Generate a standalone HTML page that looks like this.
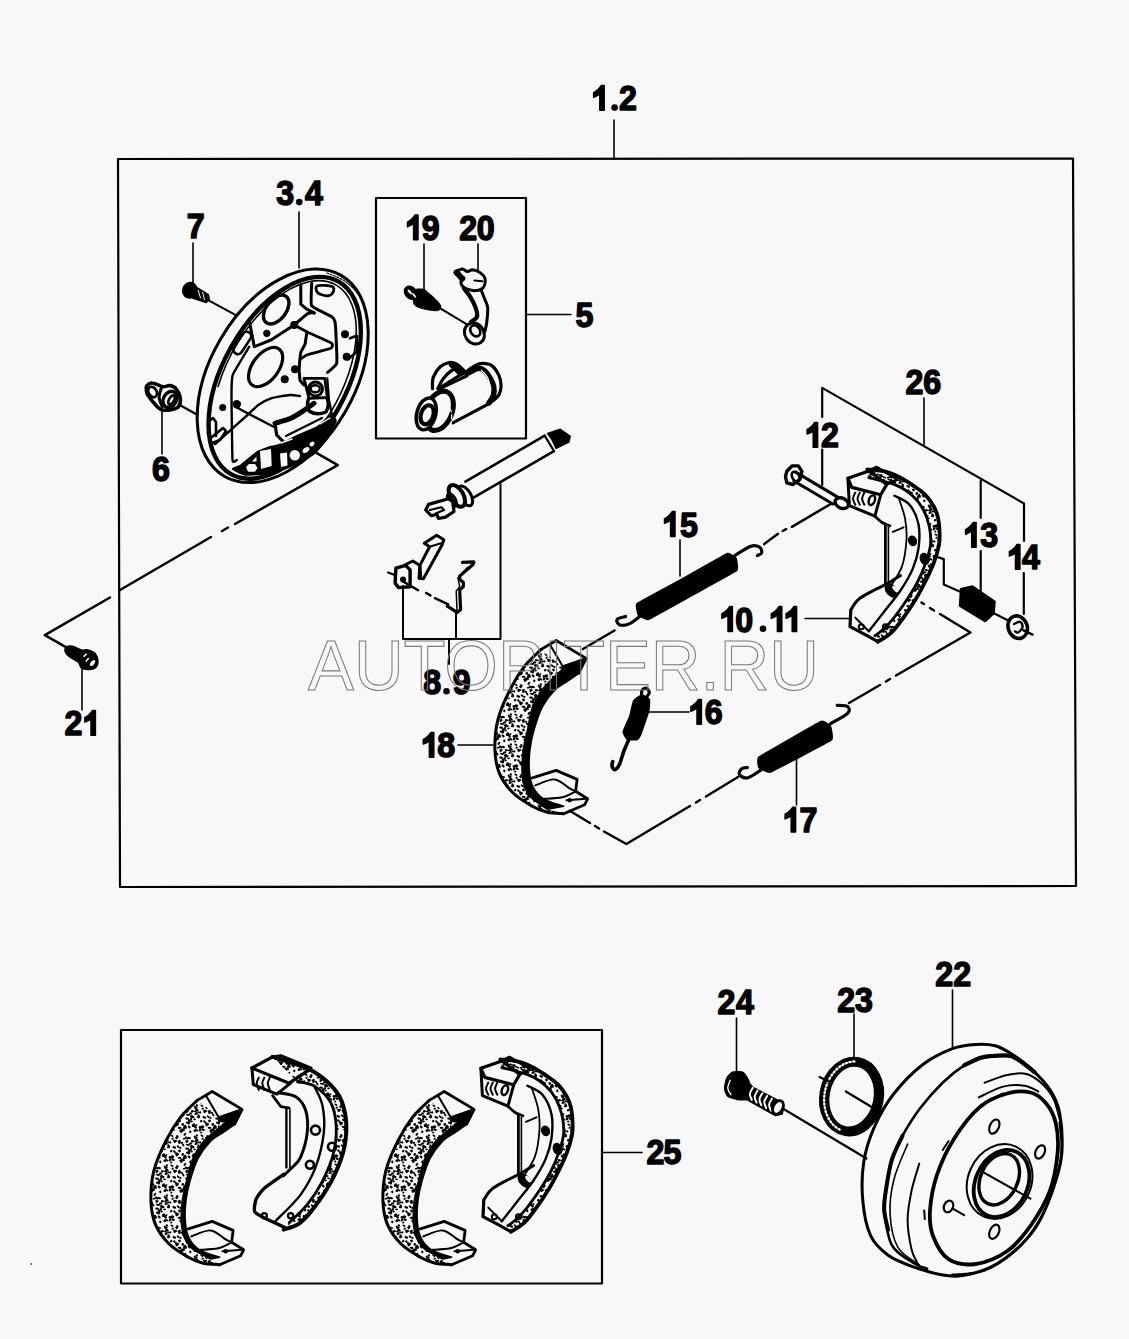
<!DOCTYPE html>
<html><head><meta charset="utf-8"><style>
html,body{margin:0;padding:0;background:#f8f8f8;}
svg{display:block}
.lb{font-family:"Liberation Sans",sans-serif;font-weight:bold;font-size:35px;fill:#000;stroke:#000;stroke-width:1.5;stroke-linejoin:round;opacity:0.999}
.wm{font-family:"Liberation Sans",sans-serif;font-size:70.8px;fill:none;stroke:#7a7a7a;stroke-width:1.05}
</style></head><body>
<svg width="1129" height="1339" viewBox="0 0 1129 1339">
<defs><pattern id="spk" patternUnits="userSpaceOnUse" width="30" height="30">
<rect width="30" height="30" fill="#f8f8f8"/>
<ellipse cx="13.6" cy="16.8" rx="2.0" ry="1.1" fill="#000" transform="rotate(5 13.6 16.8)"/>
<ellipse cx="25.7" cy="5.7" rx="2.0" ry="1.4" fill="#000" transform="rotate(18 25.7 5.7)"/>
<ellipse cx="23.8" cy="2.8" rx="1.7" ry="0.9" fill="#000" transform="rotate(-49 23.8 2.8)"/>
<ellipse cx="23.8" cy="32.8" rx="1.7" ry="0.9" fill="#000" transform="rotate(8 23.8 32.8)"/>
<ellipse cx="24.3" cy="20.8" rx="1.1" ry="1.4" fill="#000" transform="rotate(-10 24.3 20.8)"/>
<ellipse cx="28.9" cy="19.6" rx="1.4" ry="1.4" fill="#000" transform="rotate(-59 28.9 19.6)"/>
<ellipse cx="-1.1" cy="19.6" rx="1.4" ry="1.4" fill="#000" transform="rotate(46 -1.1 19.6)"/>
<ellipse cx="15.9" cy="1.8" rx="1.4" ry="0.9" fill="#000" transform="rotate(16 15.9 1.8)"/>
<ellipse cx="15.9" cy="31.8" rx="1.4" ry="0.9" fill="#000" transform="rotate(-57 15.9 31.8)"/>
<ellipse cx="23.3" cy="9.8" rx="1.4" ry="1.4" fill="#000" transform="rotate(-31 23.3 9.8)"/>
<ellipse cx="19.2" cy="15.0" rx="1.1" ry="1.1" fill="#000" transform="rotate(23 19.2 15.0)"/>
<ellipse cx="8.3" cy="29.9" rx="1.1" ry="1.4" fill="#000" transform="rotate(-28 8.3 29.9)"/>
<ellipse cx="8.3" cy="-0.1" rx="1.1" ry="1.4" fill="#000" transform="rotate(-20 8.3 -0.1)"/>
<ellipse cx="22.7" cy="15.4" rx="1.1" ry="0.9" fill="#000" transform="rotate(12 22.7 15.4)"/>
<ellipse cx="23.0" cy="12.0" rx="1.7" ry="1.1" fill="#000" transform="rotate(-52 23.0 12.0)"/>
<ellipse cx="28.7" cy="25.4" rx="1.1" ry="0.9" fill="#000" transform="rotate(-34 28.7 25.4)"/>
<ellipse cx="-1.3" cy="25.4" rx="1.1" ry="0.9" fill="#000" transform="rotate(58 -1.3 25.4)"/>
<ellipse cx="27.3" cy="14.1" rx="2.0" ry="1.1" fill="#000" transform="rotate(-51 27.3 14.1)"/>
<ellipse cx="-2.7" cy="14.1" rx="2.0" ry="1.1" fill="#000" transform="rotate(12 -2.7 14.1)"/>
<ellipse cx="18.9" cy="23.4" rx="1.7" ry="1.1" fill="#000" transform="rotate(-49 18.9 23.4)"/>
<ellipse cx="9.3" cy="0.5" rx="2.0" ry="0.9" fill="#000" transform="rotate(-43 9.3 0.5)"/>
<ellipse cx="9.3" cy="30.5" rx="2.0" ry="0.9" fill="#000" transform="rotate(-29 9.3 30.5)"/>
<ellipse cx="21.2" cy="0.3" rx="2.0" ry="1.1" fill="#000" transform="rotate(-38 21.2 0.3)"/>
<ellipse cx="21.2" cy="30.3" rx="2.0" ry="1.1" fill="#000" transform="rotate(27 21.2 30.3)"/>
<ellipse cx="16.8" cy="13.4" rx="1.4" ry="1.4" fill="#000" transform="rotate(38 16.8 13.4)"/>
<ellipse cx="3.9" cy="19.3" rx="1.1" ry="1.1" fill="#000" transform="rotate(-7 3.9 19.3)"/>
<ellipse cx="29.7" cy="0.0" rx="1.7" ry="0.9" fill="#000" transform="rotate(-34 29.7 0.0)"/>
<ellipse cx="29.7" cy="30.0" rx="1.7" ry="0.9" fill="#000" transform="rotate(-37 29.7 30.0)"/>
<ellipse cx="-0.3" cy="0.0" rx="1.7" ry="0.9" fill="#000" transform="rotate(-10 -0.3 0.0)"/>
<ellipse cx="-0.3" cy="30.0" rx="1.7" ry="0.9" fill="#000" transform="rotate(49 -0.3 30.0)"/>
<ellipse cx="18.1" cy="17.3" rx="1.1" ry="0.9" fill="#000" transform="rotate(-33 18.1 17.3)"/>
<ellipse cx="13.2" cy="0.3" rx="1.7" ry="1.1" fill="#000" transform="rotate(-11 13.2 0.3)"/>
<ellipse cx="13.2" cy="30.3" rx="1.7" ry="1.1" fill="#000" transform="rotate(-51 13.2 30.3)"/>
<ellipse cx="2.2" cy="6.3" rx="1.4" ry="0.9" fill="#000" transform="rotate(16 2.2 6.3)"/>
<ellipse cx="32.2" cy="6.3" rx="1.4" ry="0.9" fill="#000" transform="rotate(-13 32.2 6.3)"/>
<ellipse cx="11.2" cy="13.6" rx="2.0" ry="1.4" fill="#000" transform="rotate(-43 11.2 13.6)"/>
<ellipse cx="26.0" cy="5.5" rx="1.4" ry="1.1" fill="#000" transform="rotate(56 26.0 5.5)"/>
<ellipse cx="6.9" cy="18.3" rx="1.4" ry="0.9" fill="#000" transform="rotate(34 6.9 18.3)"/>
<ellipse cx="18.9" cy="16.6" rx="2.0" ry="1.1" fill="#000" transform="rotate(17 18.9 16.6)"/>
<ellipse cx="2.4" cy="1.4" rx="1.1" ry="0.9" fill="#000" transform="rotate(5 2.4 1.4)"/>
<ellipse cx="2.4" cy="31.4" rx="1.1" ry="0.9" fill="#000" transform="rotate(-28 2.4 31.4)"/>
<ellipse cx="32.4" cy="1.4" rx="1.1" ry="0.9" fill="#000" transform="rotate(-30 32.4 1.4)"/>
<ellipse cx="32.4" cy="31.4" rx="1.1" ry="0.9" fill="#000" transform="rotate(34 32.4 31.4)"/>
<ellipse cx="21.1" cy="7.7" rx="2.0" ry="1.1" fill="#000" transform="rotate(6 21.1 7.7)"/>
<ellipse cx="5.3" cy="21.6" rx="1.1" ry="0.9" fill="#000" transform="rotate(-31 5.3 21.6)"/>
<ellipse cx="14.4" cy="19.6" rx="1.1" ry="1.1" fill="#000" transform="rotate(-33 14.4 19.6)"/>
<ellipse cx="27.5" cy="6.1" rx="1.1" ry="0.9" fill="#000" transform="rotate(-26 27.5 6.1)"/>
<ellipse cx="-2.5" cy="6.1" rx="1.1" ry="0.9" fill="#000" transform="rotate(-8 -2.5 6.1)"/>
<ellipse cx="13.4" cy="1.8" rx="1.4" ry="1.1" fill="#000" transform="rotate(-13 13.4 1.8)"/>
<ellipse cx="13.4" cy="31.8" rx="1.4" ry="1.1" fill="#000" transform="rotate(7 13.4 31.8)"/>
<ellipse cx="17.2" cy="3.9" rx="1.7" ry="0.9" fill="#000" transform="rotate(54 17.2 3.9)"/>
<ellipse cx="13.5" cy="9.9" rx="1.4" ry="1.4" fill="#000" transform="rotate(-56 13.5 9.9)"/>
<ellipse cx="27.7" cy="14.2" rx="1.7" ry="1.4" fill="#000" transform="rotate(-21 27.7 14.2)"/>
<ellipse cx="-2.3" cy="14.2" rx="1.7" ry="1.4" fill="#000" transform="rotate(-56 -2.3 14.2)"/>
<ellipse cx="0.6" cy="19.1" rx="2.0" ry="0.9" fill="#000" transform="rotate(33 0.6 19.1)"/>
<ellipse cx="30.6" cy="19.1" rx="2.0" ry="0.9" fill="#000" transform="rotate(-21 30.6 19.1)"/>
<ellipse cx="9.6" cy="30.0" rx="1.1" ry="1.1" fill="#000" transform="rotate(9 9.6 30.0)"/>
<ellipse cx="9.6" cy="-0.0" rx="1.1" ry="1.1" fill="#000" transform="rotate(-13 9.6 -0.0)"/>
<ellipse cx="22.1" cy="27.0" rx="1.4" ry="1.1" fill="#000" transform="rotate(-15 22.1 27.0)"/>
<ellipse cx="22.1" cy="-3.0" rx="1.4" ry="1.1" fill="#000" transform="rotate(-50 22.1 -3.0)"/>
<ellipse cx="20.6" cy="27.0" rx="2.0" ry="0.9" fill="#000" transform="rotate(50 20.6 27.0)"/>
<ellipse cx="20.6" cy="-3.0" rx="2.0" ry="0.9" fill="#000" transform="rotate(3 20.6 -3.0)"/>
<ellipse cx="17.2" cy="18.7" rx="2.0" ry="1.1" fill="#000" transform="rotate(14 17.2 18.7)"/>
<ellipse cx="0.4" cy="2.2" rx="1.1" ry="1.4" fill="#000" transform="rotate(-46 0.4 2.2)"/>
<ellipse cx="0.4" cy="32.2" rx="1.1" ry="1.4" fill="#000" transform="rotate(-28 0.4 32.2)"/>
<ellipse cx="30.4" cy="2.2" rx="1.1" ry="1.4" fill="#000" transform="rotate(52 30.4 2.2)"/>
<ellipse cx="30.4" cy="32.2" rx="1.1" ry="1.4" fill="#000" transform="rotate(-7 30.4 32.2)"/>
<ellipse cx="21.8" cy="11.7" rx="2.0" ry="1.1" fill="#000" transform="rotate(-1 21.8 11.7)"/>
<ellipse cx="25.2" cy="2.5" rx="1.1" ry="1.1" fill="#000" transform="rotate(16 25.2 2.5)"/>
<ellipse cx="25.2" cy="32.5" rx="1.1" ry="1.1" fill="#000" transform="rotate(-49 25.2 32.5)"/>
<ellipse cx="14.4" cy="6.9" rx="1.1" ry="1.1" fill="#000" transform="rotate(39 14.4 6.9)"/>
<ellipse cx="18.4" cy="27.6" rx="1.7" ry="0.9" fill="#000" transform="rotate(-13 18.4 27.6)"/>
<ellipse cx="18.4" cy="-2.4" rx="1.7" ry="0.9" fill="#000" transform="rotate(-22 18.4 -2.4)"/>
<ellipse cx="4.3" cy="18.4" rx="1.4" ry="1.1" fill="#000" transform="rotate(24 4.3 18.4)"/>
<ellipse cx="27.9" cy="14.9" rx="1.4" ry="1.1" fill="#000" transform="rotate(-9 27.9 14.9)"/>
<ellipse cx="-2.1" cy="14.9" rx="1.4" ry="1.1" fill="#000" transform="rotate(25 -2.1 14.9)"/>
<ellipse cx="7.5" cy="19.0" rx="1.4" ry="0.9" fill="#000" transform="rotate(-11 7.5 19.0)"/>
<ellipse cx="6.6" cy="27.6" rx="1.4" ry="0.9" fill="#000" transform="rotate(-43 6.6 27.6)"/>
<ellipse cx="6.6" cy="-2.4" rx="1.4" ry="0.9" fill="#000" transform="rotate(3 6.6 -2.4)"/>
<ellipse cx="10.5" cy="26.9" rx="1.1" ry="1.4" fill="#000" transform="rotate(-52 10.5 26.9)"/>
<ellipse cx="28.5" cy="8.3" rx="1.4" ry="0.9" fill="#000" transform="rotate(-3 28.5 8.3)"/>
<ellipse cx="-1.5" cy="8.3" rx="1.4" ry="0.9" fill="#000" transform="rotate(0 -1.5 8.3)"/>
<ellipse cx="8.3" cy="6.4" rx="2.0" ry="1.1" fill="#000" transform="rotate(20 8.3 6.4)"/>
<ellipse cx="15.6" cy="20.2" rx="2.0" ry="1.1" fill="#000" transform="rotate(-51 15.6 20.2)"/>
<ellipse cx="24.9" cy="8.3" rx="1.1" ry="1.4" fill="#000" transform="rotate(30 24.9 8.3)"/>
<ellipse cx="8.4" cy="10.6" rx="1.1" ry="1.4" fill="#000" transform="rotate(-43 8.4 10.6)"/>
<ellipse cx="12.2" cy="5.7" rx="1.7" ry="0.9" fill="#000" transform="rotate(39 12.2 5.7)"/>
<ellipse cx="4.2" cy="1.4" rx="1.1" ry="1.1" fill="#000" transform="rotate(-47 4.2 1.4)"/>
<ellipse cx="4.2" cy="31.4" rx="1.1" ry="1.1" fill="#000" transform="rotate(20 4.2 31.4)"/>
<ellipse cx="16.1" cy="19.2" rx="1.7" ry="0.9" fill="#000" transform="rotate(27 16.1 19.2)"/>
<ellipse cx="5.9" cy="24.7" rx="1.7" ry="0.9" fill="#000" transform="rotate(31 5.9 24.7)"/>
<ellipse cx="0.3" cy="14.2" rx="1.1" ry="0.9" fill="#000" transform="rotate(-32 0.3 14.2)"/>
<ellipse cx="30.3" cy="14.2" rx="1.1" ry="0.9" fill="#000" transform="rotate(-26 30.3 14.2)"/>
<ellipse cx="23.4" cy="16.2" rx="1.4" ry="1.1" fill="#000" transform="rotate(48 23.4 16.2)"/>
<ellipse cx="23.8" cy="27.2" rx="1.1" ry="1.1" fill="#000" transform="rotate(59 23.8 27.2)"/>
<ellipse cx="23.8" cy="-2.8" rx="1.1" ry="1.1" fill="#000" transform="rotate(54 23.8 -2.8)"/>
<ellipse cx="21.7" cy="3.9" rx="2.0" ry="0.9" fill="#000" transform="rotate(20 21.7 3.9)"/>
<ellipse cx="26.6" cy="0.2" rx="1.7" ry="1.1" fill="#000" transform="rotate(-19 26.6 0.2)"/>
<ellipse cx="26.6" cy="30.2" rx="1.7" ry="1.1" fill="#000" transform="rotate(23 26.6 30.2)"/>
<ellipse cx="29.5" cy="3.0" rx="1.1" ry="0.9" fill="#000" transform="rotate(-29 29.5 3.0)"/>
<ellipse cx="29.5" cy="33.0" rx="1.1" ry="0.9" fill="#000" transform="rotate(55 29.5 33.0)"/>
<ellipse cx="-0.5" cy="3.0" rx="1.1" ry="0.9" fill="#000" transform="rotate(-11 -0.5 3.0)"/>
<ellipse cx="-0.5" cy="33.0" rx="1.1" ry="0.9" fill="#000" transform="rotate(-49 -0.5 33.0)"/>
<ellipse cx="29.3" cy="16.1" rx="1.7" ry="1.1" fill="#000" transform="rotate(56 29.3 16.1)"/>
<ellipse cx="-0.7" cy="16.1" rx="1.7" ry="1.1" fill="#000" transform="rotate(31 -0.7 16.1)"/>
<ellipse cx="25.7" cy="10.5" rx="1.1" ry="0.9" fill="#000" transform="rotate(-4 25.7 10.5)"/>
<ellipse cx="10.3" cy="12.6" rx="1.7" ry="1.1" fill="#000" transform="rotate(57 10.3 12.6)"/>
<ellipse cx="0.9" cy="24.3" rx="1.1" ry="1.1" fill="#000" transform="rotate(42 0.9 24.3)"/>
<ellipse cx="30.9" cy="24.3" rx="1.1" ry="1.1" fill="#000" transform="rotate(-56 30.9 24.3)"/>
<ellipse cx="5.2" cy="10.1" rx="1.4" ry="1.1" fill="#000" transform="rotate(-41 5.2 10.1)"/>
<ellipse cx="30.0" cy="27.0" rx="2.0" ry="1.1" fill="#000" transform="rotate(14 30.0 27.0)"/>
<ellipse cx="30.0" cy="-3.0" rx="2.0" ry="1.1" fill="#000" transform="rotate(28 30.0 -3.0)"/>
<ellipse cx="-0.0" cy="27.0" rx="2.0" ry="1.1" fill="#000" transform="rotate(-49 -0.0 27.0)"/>
<ellipse cx="-0.0" cy="-3.0" rx="2.0" ry="1.1" fill="#000" transform="rotate(37 -0.0 -3.0)"/>
<ellipse cx="6.6" cy="15.8" rx="1.7" ry="1.4" fill="#000" transform="rotate(11 6.6 15.8)"/>
<ellipse cx="19.2" cy="15.7" rx="1.7" ry="1.1" fill="#000" transform="rotate(25 19.2 15.7)"/>
<ellipse cx="11.4" cy="25.4" rx="1.4" ry="1.1" fill="#000" transform="rotate(48 11.4 25.4)"/>
<ellipse cx="4.2" cy="16.3" rx="1.7" ry="1.4" fill="#000" transform="rotate(3 4.2 16.3)"/>
<ellipse cx="6.0" cy="16.1" rx="1.1" ry="1.4" fill="#000" transform="rotate(-12 6.0 16.1)"/>
<ellipse cx="0.8" cy="29.1" rx="2.0" ry="1.4" fill="#000" transform="rotate(42 0.8 29.1)"/>
<ellipse cx="0.8" cy="-0.9" rx="2.0" ry="1.4" fill="#000" transform="rotate(12 0.8 -0.9)"/>
<ellipse cx="30.8" cy="29.1" rx="2.0" ry="1.4" fill="#000" transform="rotate(-45 30.8 29.1)"/>
<ellipse cx="30.8" cy="-0.9" rx="2.0" ry="1.4" fill="#000" transform="rotate(2 30.8 -0.9)"/>
<ellipse cx="2.8" cy="5.0" rx="2.0" ry="1.1" fill="#000" transform="rotate(57 2.8 5.0)"/>
<ellipse cx="32.8" cy="5.0" rx="2.0" ry="1.1" fill="#000" transform="rotate(42 32.8 5.0)"/>
</pattern></defs>
<rect width="1129" height="1339" fill="#f8f8f8"/>
<g stroke="#000" fill="none" stroke-linecap="round" stroke-linejoin="round">
<path d="M118,159 L1073,158.5 L1076,886 L120,887 Z" stroke-width="2.2" fill="none" />
<path d="M376,198 L526,198 L526,438.5 L376,438.5 Z" stroke-width="2.2" fill="none" />
<path d="M121,1030 L602,1030 L602,1283.5 L121,1283.5 Z" stroke-width="2.2" fill="none" />
<path transform="translate(593.20,110.80)" d="M8.2,-25.3 L11.0,-25.3 L11.0,-0.5 L6.6,-0.5 L6.6,-16.6 Q3.6,-14.6 0.5,-13.6 L0.5,-18.2 Q4.6,-19.8 8.2,-25.3 Z" fill="#000" stroke="#000" stroke-width="1.5" stroke-linejoin="round"/>
<circle cx="614.60" cy="107.60" r="3.3" fill="#000" stroke="none"/>
<text transform="translate(618.97,110.40) scale(0.92,1)" class="lb">2</text>
<line x1="614" y1="120" x2="614" y2="159" stroke-width="1.6"/>
<text transform="translate(276.35,204.90) scale(0.92,1)" class="lb">3</text>
<circle cx="299.30" cy="202.10" r="3.3" fill="#000" stroke="none"/>
<text transform="translate(305.02,204.90) scale(0.92,1)" class="lb">4</text>
<line x1="299" y1="212" x2="299" y2="268" stroke-width="1.6"/>
<text transform="translate(186.78,238.20) scale(0.92,1)" class="lb">7</text>
<line x1="193" y1="243" x2="193" y2="283" stroke-width="1.6"/>
<text transform="translate(151.97,481.20) scale(0.92,1)" class="lb">6</text>
<line x1="162" y1="410" x2="162" y2="454" stroke-width="1.6"/>
<text transform="translate(64.47,735.30) scale(0.92,1)" class="lb">2</text>
<path transform="translate(84.40,735.70)" d="M8.2,-25.3 L11.0,-25.3 L11.0,-0.5 L6.6,-0.5 L6.6,-16.6 Q3.6,-14.6 0.5,-13.6 L0.5,-18.2 Q4.6,-19.8 8.2,-25.3 Z" fill="#000" stroke="#000" stroke-width="1.5" stroke-linejoin="round"/>
<line x1="82" y1="669" x2="82" y2="710" stroke-width="1.6"/>
<path transform="translate(407.00,240.30)" d="M8.2,-25.3 L11.0,-25.3 L11.0,-0.5 L6.6,-0.5 L6.6,-16.6 Q3.6,-14.6 0.5,-13.6 L0.5,-18.2 Q4.6,-19.8 8.2,-25.3 Z" fill="#000" stroke="#000" stroke-width="1.5" stroke-linejoin="round"/>
<text transform="translate(421.67,239.90) scale(0.92,1)" class="lb">9</text>
<line x1="424" y1="244" x2="424" y2="290" stroke-width="1.6"/>
<text transform="translate(459.17,239.90) scale(0.92,1)" class="lb">2</text>
<text transform="translate(476.67,239.90) scale(0.92,1)" class="lb">0</text>
<line x1="478" y1="244" x2="478" y2="271" stroke-width="1.6"/>
<text transform="translate(575.58,326.60) scale(0.92,1)" class="lb">5</text>
<line x1="526" y1="314.5" x2="571" y2="314.5" stroke-width="1.6"/>
<text transform="translate(423.25,694.00) scale(0.92,1)" class="lb">8</text>
<circle cx="446.50" cy="691.20" r="3.3" fill="#000" stroke="none"/>
<text transform="translate(452.67,694.00) scale(0.92,1)" class="lb">9</text>
<text transform="translate(905.47,394.10) scale(0.92,1)" class="lb">2</text>
<text transform="translate(923.37,394.10) scale(0.92,1)" class="lb">6</text>
<line x1="924" y1="398" x2="924" y2="445" stroke-width="1.6"/>
<path transform="translate(806.60,447.70)" d="M8.2,-25.3 L11.0,-25.3 L11.0,-0.5 L6.6,-0.5 L6.6,-16.6 Q3.6,-14.6 0.5,-13.6 L0.5,-18.2 Q4.6,-19.8 8.2,-25.3 Z" fill="#000" stroke="#000" stroke-width="1.5" stroke-linejoin="round"/>
<text transform="translate(821.07,447.30) scale(0.92,1)" class="lb">2</text>
<path transform="translate(965.10,547.80)" d="M8.2,-25.3 L11.0,-25.3 L11.0,-0.5 L6.6,-0.5 L6.6,-16.6 Q3.6,-14.6 0.5,-13.6 L0.5,-18.2 Q4.6,-19.8 8.2,-25.3 Z" fill="#000" stroke="#000" stroke-width="1.5" stroke-linejoin="round"/>
<text transform="translate(980.15,547.40) scale(0.92,1)" class="lb">3</text>
<path transform="translate(1008.90,569.70)" d="M8.2,-25.3 L11.0,-25.3 L11.0,-0.5 L6.6,-0.5 L6.6,-16.6 Q3.6,-14.6 0.5,-13.6 L0.5,-18.2 Q4.6,-19.8 8.2,-25.3 Z" fill="#000" stroke="#000" stroke-width="1.5" stroke-linejoin="round"/>
<text transform="translate(1022.02,569.30) scale(0.92,1)" class="lb">4</text>
<path transform="translate(664.00,536.90)" d="M8.2,-25.3 L11.0,-25.3 L11.0,-0.5 L6.6,-0.5 L6.6,-16.6 Q3.6,-14.6 0.5,-13.6 L0.5,-18.2 Q4.6,-19.8 8.2,-25.3 Z" fill="#000" stroke="#000" stroke-width="1.5" stroke-linejoin="round"/>
<text transform="translate(680.08,536.50) scale(0.92,1)" class="lb">5</text>
<line x1="680" y1="540" x2="680" y2="576" stroke-width="1.6"/>
<path transform="translate(721.40,631.90)" d="M8.2,-25.3 L11.0,-25.3 L11.0,-0.5 L6.6,-0.5 L6.6,-16.6 Q3.6,-14.6 0.5,-13.6 L0.5,-18.2 Q4.6,-19.8 8.2,-25.3 Z" fill="#000" stroke="#000" stroke-width="1.5" stroke-linejoin="round"/>
<text transform="translate(735.27,631.50) scale(0.92,1)" class="lb">0</text>
<circle cx="763.00" cy="628.70" r="3.3" fill="#000" stroke="none"/>
<path transform="translate(770.80,631.90)" d="M8.2,-25.3 L11.0,-25.3 L11.0,-0.5 L6.6,-0.5 L6.6,-16.6 Q3.6,-14.6 0.5,-13.6 L0.5,-18.2 Q4.6,-19.8 8.2,-25.3 Z" fill="#000" stroke="#000" stroke-width="1.5" stroke-linejoin="round"/>
<path transform="translate(785.60,631.90)" d="M8.2,-25.3 L11.0,-25.3 L11.0,-0.5 L6.6,-0.5 L6.6,-16.6 Q3.6,-14.6 0.5,-13.6 L0.5,-18.2 Q4.6,-19.8 8.2,-25.3 Z" fill="#000" stroke="#000" stroke-width="1.5" stroke-linejoin="round"/>
<line x1="805" y1="618.5" x2="849" y2="618.5" stroke-width="1.6"/>
<path transform="translate(690.40,724.80)" d="M8.2,-25.3 L11.0,-25.3 L11.0,-0.5 L6.6,-0.5 L6.6,-16.6 Q3.6,-14.6 0.5,-13.6 L0.5,-18.2 Q4.6,-19.8 8.2,-25.3 Z" fill="#000" stroke="#000" stroke-width="1.5" stroke-linejoin="round"/>
<text transform="translate(704.67,724.40) scale(0.92,1)" class="lb">6</text>
<line x1="648" y1="712" x2="689" y2="712" stroke-width="1.6"/>
<path transform="translate(784.60,832.50)" d="M8.2,-25.3 L11.0,-25.3 L11.0,-0.5 L6.6,-0.5 L6.6,-16.6 Q3.6,-14.6 0.5,-13.6 L0.5,-18.2 Q4.6,-19.8 8.2,-25.3 Z" fill="#000" stroke="#000" stroke-width="1.5" stroke-linejoin="round"/>
<text transform="translate(799.58,832.10) scale(0.92,1)" class="lb">7</text>
<line x1="796.5" y1="759" x2="796.5" y2="805" stroke-width="1.6"/>
<path transform="translate(422.80,757.70)" d="M8.2,-25.3 L11.0,-25.3 L11.0,-0.5 L6.6,-0.5 L6.6,-16.6 Q3.6,-14.6 0.5,-13.6 L0.5,-18.2 Q4.6,-19.8 8.2,-25.3 Z" fill="#000" stroke="#000" stroke-width="1.5" stroke-linejoin="round"/>
<text transform="translate(437.35,757.30) scale(0.92,1)" class="lb">8</text>
<line x1="458" y1="745" x2="493" y2="745" stroke-width="1.6"/>
<text transform="translate(646.47,1163.60) scale(0.92,1)" class="lb">2</text>
<text transform="translate(663.58,1163.60) scale(0.92,1)" class="lb">5</text>
<line x1="602" y1="1152.5" x2="642" y2="1152.5" stroke-width="1.6"/>
<text transform="translate(935.17,985.70) scale(0.92,1)" class="lb">2</text>
<text transform="translate(953.17,985.70) scale(0.92,1)" class="lb">2</text>
<line x1="952.5" y1="990" x2="952.5" y2="1048" stroke-width="1.6"/>
<text transform="translate(837.17,1012.00) scale(0.92,1)" class="lb">2</text>
<text transform="translate(854.95,1012.00) scale(0.92,1)" class="lb">3</text>
<line x1="854" y1="1014" x2="854" y2="1057" stroke-width="1.6"/>
<text transform="translate(717.57,1014.40) scale(0.92,1)" class="lb">2</text>
<text transform="translate(736.02,1014.40) scale(0.92,1)" class="lb">4</text>
<line x1="736.5" y1="1018" x2="736.5" y2="1072" stroke-width="1.6"/>
<ellipse transform="translate(282.7,375.8) rotate(-59.8)" rx="116.2" ry="72.2" stroke-width="3"/>
<ellipse transform="translate(284.7,377.8) rotate(-60.9)" rx="110.3" ry="61.8" stroke-width="4.4"/>
<path transform="translate(284.7,377.8) rotate(-60.9)" d="M-40,-54 A106,57.5 0 0 1 106,0 A106,57.5 0 0 1 -20,56" stroke-width="1.6"/>
<path d="M327.0,273.0 C330.2,274.5 340.2,277.5 346.0,282.0 C351.8,286.5 358.3,292.8 362.0,300.0 C365.7,307.2 367.2,316.7 368.0,325.0 C368.8,333.3 368.0,341.7 367.0,350.0 C366.0,358.3 362.8,370.8 362.0,375.0" stroke-width="1.2" stroke-dasharray="2 1.5"/>
<ellipse transform="translate(276.2,309.5) rotate(-53)" rx="16.5" ry="10" stroke-width="3.4"/>
<ellipse transform="translate(265.6,367.1) rotate(-53)" rx="22.5" ry="13" stroke-width="3.2"/>
<rect transform="translate(242.3,342.9) rotate(-57)" x="-12.5" y="-4.5" width="25" height="9" rx="4.5" stroke-width="2.6"/>
<path d="M317.5,285.8 C320.0,284.8 330.0,285.4 332.5,286.7 C335.0,287.9 333.5,291.8 332.5,293.3 C331.5,294.8 329.2,295.9 326.7,295.8 C324.2,295.7 319.0,294.2 317.5,292.5 C316.0,290.8 315.0,286.8 317.5,285.8 Z" stroke-width="2.8"/>
<circle cx="266.8" cy="333.3" r="3.6" fill="#000" stroke="none"/>
<circle cx="284.75" cy="379.2" r="4" fill="#000" stroke="none"/>
<circle cx="295" cy="369.2" r="4" fill="#000" stroke="none"/>
<circle cx="294.2" cy="325" r="4" fill="#000" stroke="none"/>
<circle cx="345" cy="334.2" r="4" fill="#000" stroke="none"/>
<circle cx="346.7" cy="356.7" r="4" fill="#000" stroke="none"/>
<circle cx="222.7" cy="407.5" r="3.5" fill="#000" stroke="none"/>
<circle cx="236.8" cy="404.2" r="4.2" fill="#000" stroke="none"/>
<path d="M249.3,320.8 L254.3,346.7 L271.0,340.0 L294.2,325.0" stroke-width="3"/>
<path d="M294.2,325.0 C295.2,324.2 297.6,321.9 300.0,320.0 C302.4,318.1 305.9,314.5 308.3,313.3 C310.7,312.1 313.2,313.0 314.2,312.9" stroke-width="3"/>
<path d="M300.8,284.2 L300.8,304.2 L306.7,309.2 L314.2,312.9" stroke-width="3"/>
<path d="M311.7,283.3 C311.7,284.8 310.4,303.6 311.7,305.8 C313.0,308.0 330.1,315.6 331.7,316.7 C333.3,317.8 334.7,320.1 335.0,321.7 C335.3,323.3 336.1,337.2 336.2,340.0 C336.3,342.8 337.3,361.1 336.7,363.3 C336.1,365.5 328.1,371.9 327.5,372.5" stroke-width="3"/>
<path d="M294.2,325.0 C295.0,325.4 304.2,330.5 306.7,331.7 C309.2,332.9 330.1,342.2 331.7,343.3 C333.3,344.4 332.5,347.5 330.8,348.3 C329.1,349.1 308.6,354.3 306.7,355.0 C304.8,355.7 302.0,358.1 301.7,358.3" stroke-width="2.8"/>
<path d="M306.7,333.3 C306.6,334.0 305.4,342.9 305.0,344.2 C304.6,345.5 301.2,350.8 300.8,352.5 C300.4,354.2 299.3,367.4 299.2,369.2 C299.1,371.0 299.7,378.9 300.0,380.0 C300.3,381.1 303.7,384.7 304.0,385.0" stroke-width="3"/>
<path d="M350.0,338.3 L356.7,335.8 L356.7,351.7 L348.3,359.2" stroke-width="2.6"/>
<path d="M249.3,346.7 C248.7,347.7 241.1,360.1 240.0,362.0 C238.9,363.9 233.3,372.8 232.7,375.0 C232.1,377.2 231.5,389.3 231.5,395.0 C231.5,400.7 232.2,455.7 232.5,460.0 C232.8,464.3 236.4,460.0 236.7,460.0" stroke-width="2.4"/>
<path d="M236.7,407.5 L275.0,427.5" stroke-width="2.4"/>
<path d="M215.0,444.0 C218.2,441.1 243.2,418.9 247.5,415.0 C251.8,411.1 256.0,406.7 258.3,405.0 C260.7,403.3 267.8,399.3 271.0,398.3 C274.2,397.3 287.1,395.2 290.0,395.0 C292.9,394.8 299.0,395.9 300.0,396.0" stroke-width="2.4"/>
<path d="M304.0,378.3 L324.8,378.3 L327.3,397.5 L309.0,398.3 Z" stroke-width="2.8"/>
<circle cx="315.5" cy="389" r="7" stroke-width="3"/>
<ellipse cx="315.25" cy="388.75" rx="4.5" ry="3.5" stroke-width="2.4"/>
<path d="M309,398 Q306,404 309,411 Q316,416 326,412 Q330,405 327,398" stroke-width="3.4"/>
<path d="M327.3,378.3 L329.0,400.0 L332.0,415.0" stroke-width="2.2"/>
<path d="M275.0,423.3 C277.6,422.5 286.1,420.4 290.8,418.3 C295.5,416.2 299.4,413.3 303.3,410.8 C307.2,408.3 312.2,404.6 314.0,403.3" stroke-width="5"/>
<path d="M275.0,423.3 L276.7,435.0 L283.3,441.7" stroke-width="3.2"/>
<path d="M286.0,436.0 L322.0,418.0" stroke-width="2.2"/>
<path d="M232.5,469.0 C232.2,468.3 239.3,466.2 241.0,465.0 C242.7,463.8 255.6,452.9 257.5,451.7 C259.4,450.5 268.6,447.1 270.0,446.7 C271.4,446.3 276.6,445.7 278.3,445.0 C280.0,444.3 292.4,437.9 295.0,436.7 C297.6,435.5 314.6,428.4 317.0,427.0 C319.4,425.6 329.7,415.4 331.0,415.0 C332.3,414.6 336.3,419.3 336.0,421.0 C335.7,422.7 327.5,437.8 326.0,440.0 C324.5,442.2 316.1,452.3 314.0,454.0 C311.9,455.7 297.9,463.7 295.0,465.0 C292.1,466.3 273.3,472.6 270.0,473.3 C266.7,474.0 247.5,475.3 245.0,475.0 C242.5,474.7 232.8,469.7 232.5,469.0 Z" fill="#000" stroke-width="1.5"/>
<path d="M246.0,467.0 L249.0,464.0 L255.0,464.0 L257.5,468.0 L255.0,471.7 L248.0,471.7 Z" fill="#f8f8f8" stroke="none"/>
<path d="M260.0,451.0 L271.0,449.0 L271.7,466.0 L261.0,469.0 Z" fill="#f8f8f8" stroke="none"/>
<path d="M280.0,453.5 L287.0,452.5 L287.5,465.5 L281.0,467.0 Z" fill="#f8f8f8" stroke="none"/>
<circle cx="294.8" cy="455.3" r="5.2" fill="#f8f8f8" stroke="none"/>
<ellipse transform="translate(306,450) rotate(-35)" rx="3.8" ry="2.4" fill="#f8f8f8" stroke="none"/>
<ellipse transform="translate(312,444) rotate(-35)" rx="2.8" ry="2" fill="#f8f8f8" stroke="none"/>
<path d="M252.0,461.5 L256.5,456.5 L256.5,461.5 Z" fill="#f8f8f8" stroke="none"/>
<path d="M281.0,443.0 L292.0,439.0" stroke="#f8f8f8" stroke-width="1.4"/>
<path d="M320.0,424.0 L330.0,418.0" stroke="#f8f8f8" stroke-width="1.4"/>
<path d="M208.0,433.0 L209.0,421.0 L213.0,418.0 L216.0,422.0 L216.0,436.0" stroke-width="2.6"/>
<path d="M212.0,437.0 L223.0,428.0 L226.0,431.0 L220.0,440.0 L212.0,443.0" stroke-width="2.6"/>
<ellipse transform="translate(189.8,290.2) rotate(20)" rx="7.2" ry="8" fill="#000" stroke-width="1"/>
<path d="M193.8,285.7 L208.3,294.6 L209.4,299.7 L206.1,302.5 L192.6,298.0 Z" fill="#000" stroke-width="1.5"/>
<path d="M198.2,290.2 L200.5,298.0 M202.7,292.4 L204.4,299.7" stroke="#f8f8f8" stroke-width="1"/>
<path d="M207.2,299.7 L236.3,315.4" stroke-width="2"/>
<path d="M146.9,385.6 C147.9,384.5 149.6,382.8 152.2,383.0 C154.9,383.1 159.9,386.2 162.8,386.7 C165.8,387.1 167.5,385.3 169.8,385.6 C172.0,386.0 174.4,386.6 176.1,388.8 C177.9,391.0 180.0,395.9 180.4,398.9 C180.7,401.9 179.7,405.1 178.3,406.9 C176.8,408.7 174.4,409.0 171.9,409.5 C169.3,410.1 165.2,410.5 162.8,410.1 C160.5,409.6 160.0,409.4 157.5,406.9 C155.1,404.4 149.8,398.0 148.0,395.2 C146.1,392.4 146.6,391.5 146.4,389.9 C146.2,388.3 145.9,386.8 146.9,385.6 Z" stroke-width="3.6"/>
<ellipse transform="translate(170,399.4) rotate(30)" rx="6.5" ry="8.5" stroke-width="3.4"/>
<ellipse transform="translate(171.5,400) rotate(30)" rx="2.5" ry="5" stroke-width="2.6"/>
<ellipse transform="translate(152.6,392) rotate(-30)" rx="4" ry="5.5" stroke-width="2.6"/>
<path d="M161.3,388.3 C160.9,389.8 159.0,394.2 159.1,397.3 C159.3,400.4 161.8,405.3 162.3,406.9" stroke-width="3"/>
<path d="M179.3,404.8 L196.3,414.3" stroke-width="2.2"/>
<path d="M66.0,647.3 C67.3,646.3 70.4,645.8 72.9,646.3 C75.5,646.7 79.0,649.4 81.4,650.0 C83.9,650.6 85.5,649.4 87.8,650.0 C90.1,650.6 93.6,651.8 95.3,653.7 C96.9,655.6 97.8,658.8 97.9,661.1 C98.0,663.4 97.3,666.1 95.8,667.5 C94.3,668.9 91.3,669.5 88.9,669.6 C86.5,669.7 83.2,669.3 81.4,668.0 C79.7,666.8 80.2,664.1 78.3,662.2 C76.3,660.3 71.9,658.5 69.8,656.9 C67.6,655.3 66.1,654.2 65.5,652.6 C64.9,651.0 64.8,648.4 66.0,647.3 Z" fill="#000" stroke-width="1.5"/>
<path d="M84.1,656.3 L86.2,654.2 M86.2,661.1 L88.4,658.5" stroke="#f8f8f8" stroke-width="1.6"/>
<ellipse transform="translate(92.60361317747078,662.9914984059511) rotate(-50)" rx="3.5" ry="1.8" fill="#f8f8f8" stroke="none"/>
<path d="M413.3,290.6 C414.9,288.6 420.4,288.7 423.0,289.2 C425.7,289.7 427.2,292.0 429.2,293.7 C431.3,295.3 433.5,296.9 435.4,299.0 C437.3,301.0 440.3,304.1 440.7,306.1 C441.2,308.0 440.4,309.9 438.1,310.5 C435.7,311.1 430.3,310.3 426.6,309.6 C422.9,308.9 418.2,307.5 415.9,306.1 C413.7,304.6 413.7,303.3 413.3,300.7 C412.8,298.2 411.7,292.5 413.3,290.6 Z" fill="#000" stroke-width="1"/>
<ellipse transform="translate(410.62887511071744,292.7723649247121) rotate(-40)" rx="5" ry="6.5" stroke-width="2.6" fill="#000"/>
<ellipse transform="translate(409.74313551815766,291.88662533215233) rotate(-40)" rx="1.2" ry="3" fill="#f8f8f8" stroke="none"/>
<ellipse transform="translate(414.1718334809566,295.4295837023915) rotate(-40)" rx="1" ry="3" fill="#f8f8f8" stroke="none"/>
<path d="M440.7,308.7 L467.3,324.7" stroke-width="2"/>
<path d="M454.9,273.3 C454.6,271.8 459.9,269.2 462.0,268.9 C464.1,268.6 465.5,271.4 467.3,271.5 C469.1,271.7 470.6,269.6 472.6,269.7 C474.7,269.9 477.6,270.9 479.7,272.4 C481.8,273.9 484.4,276.1 485.0,278.6 C485.6,281.1 484.7,285.5 483.3,287.5 C481.8,289.5 478.8,290.3 476.2,290.6 C473.5,290.9 469.7,290.0 467.3,289.2 C465.0,288.4 463.0,287.0 462.0,285.7 C461.0,284.4 460.8,282.6 461.1,281.3 C461.4,279.9 464.8,279.0 463.8,277.7 C462.7,276.4 455.2,274.8 454.9,273.3 Z" stroke-width="3"/>
<path d="M456.7,272.4 L462.0,278.6" stroke-width="6"/>
<path d="M474.4,280.4 L482.4,281.3" stroke-width="2"/>
<path d="M463.8,288.3 C464.8,289.7 468.1,293.2 470.0,296.3 C471.9,299.4 474.1,303.5 475.3,306.9 C476.5,310.3 477.8,314.2 477.1,316.7 C476.3,319.2 471.9,321.1 470.9,322.0" stroke-width="4.2"/>
<path d="M481.5,291.0 C482.1,292.5 484.0,297.1 485.0,299.9 C486.1,302.7 487.4,304.1 487.7,307.8 C488.0,311.5 487.2,318.2 486.8,322.0 C486.4,325.8 485.3,329.4 485.0,330.9" stroke-width="3"/>
<ellipse transform="translate(474.4021257750221,333.5163861824624) rotate(-35)" rx="9.5" ry="11" stroke-width="3"/>
<ellipse transform="translate(475.28786536758196,330.85916740478297) rotate(-35)" rx="4.5" ry="6" stroke-width="2.6"/>
<path d="M438.7,389.1 L467.0,375.8" stroke-width="3.2"/>
<path d="M452.8,422.8 L489.1,403.7" stroke-width="3.2"/>
<path d="M466.1,371.8 C467.6,370.8 472.2,367.0 475.0,365.6 C477.8,364.2 480.1,363.4 482.9,363.4 C485.7,363.4 489.1,363.6 491.8,365.6 C494.5,367.6 497.3,372.0 498.9,375.4 C500.4,378.8 501.1,382.8 501.1,386.0 C501.1,389.2 500.1,392.5 498.9,394.9 C497.6,397.2 495.3,398.7 493.6,400.2 C491.8,401.6 489.1,403.1 488.3,403.7" stroke-width="3.2"/>
<path d="M468.8,372.7 C470.4,372.0 475.9,368.6 478.5,368.3 C481.2,368.0 482.8,369.3 484.7,370.9 C486.6,372.6 488.6,375.5 490.0,378.0 C491.5,380.5 493.0,383.2 493.6,386.0 C494.2,388.8 494.3,392.1 493.6,394.9 C492.8,397.7 489.9,401.5 489.1,402.8" stroke-width="5.5"/>
<path d="M481.2,370.1 C482.2,371.2 485.7,374.0 487.4,377.1 C489.0,380.2 490.3,386.7 490.9,388.7" stroke="#f8f8f8" stroke-width="1.2"/>
<path d="M432.5,388.7 C432.6,386.7 432.0,380.8 433.3,377.1 C434.7,373.5 437.8,369.0 440.4,366.5 C443.1,364.1 446.6,363.0 449.3,362.5 C451.9,362.1 454.2,362.8 456.4,363.9 C458.6,365.0 460.8,367.4 462.6,369.2 C464.3,370.9 466.3,373.6 467.0,374.5" stroke-width="3.2"/>
<path d="M437.8,388.7 C438.7,387.0 440.9,381.9 443.1,378.9 C445.3,376.0 448.5,372.7 451.1,370.9 C453.6,369.2 456.1,367.9 458.1,368.3 C460.2,368.7 462.6,372.3 463.5,373.2" stroke-width="3.2"/>
<path d="M463.5,373.2 C462.0,374.0 457.7,376.6 454.6,378.5 C451.5,380.4 447.2,383.1 444.9,384.7 C442.5,386.2 441.2,387.3 440.4,387.8" stroke-width="3.2"/>
<path d="M449.3,364.7 C449.7,363.9 454.6,363.6 457.3,364.7 C459.9,365.9 464.8,370.1 465.2,371.8 C465.7,373.6 461.7,375.7 459.9,375.4 C458.1,375.1 456.4,371.8 454.6,370.1 C452.8,368.3 448.8,365.6 449.3,364.7 Z" fill="#000" stroke-width="1.5"/>
<ellipse transform="translate(439.10097431355183,410.80159433126664) rotate(22)" rx="13" ry="20.5" stroke-width="5" fill="#f8f8f8"/>
<path d="M446.6,401.9 C447.4,403.7 450.8,409.0 451.5,412.6 C452.2,416.1 451.1,421.4 451.1,423.2" stroke="#f8f8f8" stroke-width="1.2" stroke-dasharray="4 3"/>
<ellipse transform="translate(426.2577502214349,413.90168290522587) rotate(15)" rx="9.5" ry="16.3" stroke-width="3.4" fill="#f8f8f8"/>
<ellipse transform="translate(427.1434898139947,414.78742249778566) rotate(18)" rx="6.2" ry="9.8" stroke-width="4.2"/>
<path d="M465.4,481.7 L544.7,435.6" stroke-width="2.6"/>
<path d="M473.9,497.3 L553.9,451.2" stroke-width="2.6"/>
<path d="M544.7,435.6 L553.2,449.8" stroke-width="2.2"/>
<path d="M547.6,433.5 L560.3,429.3 L570.2,436.3 L568.8,442.0 L556.1,448.4 L551.8,439.2 Z" fill="#000" stroke-width="1.5"/>
<ellipse transform="translate(465.35147392290247,495.8616780045352) rotate(-30)" rx="5.5" ry="11" stroke-width="3"/>
<ellipse transform="translate(456.84807256235825,495.8616780045352) rotate(-30)" rx="6.5" ry="12" stroke-width="4" fill="#f8f8f8"/>
<ellipse transform="translate(451.88775510204084,500.11337868480723) rotate(-30)" rx="3.5" ry="7" stroke-width="3"/>
<path d="M448.3,498.7 L428.5,504.4 L425.7,510.0 L431.3,515.7 L437.0,514.3 L438.4,518.5 L445.5,517.1 L454.0,511.5 L452.6,501.5 Z" stroke-width="3.2" fill="#f8f8f8"/>
<path d="M429.9,510.0 L441.3,507.2 L444.1,510.0 L435.6,513.6" stroke-width="2.2"/>
<path d="M424.3,543.3 L436.7,535.3 L443.8,539.7 L442.0,545.1 L423.4,578.7 L419.0,578.3 L419.9,565.4 L429.6,546.8 Z" stroke-width="3"/>
<path d="M429.6,546.8 L441.1,543.3" stroke-width="2.2"/>
<path d="M395.9,568.1 L405.7,565.4 L410.1,569.9 L410.1,586.7 L398.6,587.6 L395.1,583.1 Z" stroke-width="3.4"/>
<path d="M405.7,564.5 L412.8,561.0 L419.9,565.4 L420.7,576.1" stroke-width="3"/>
<path d="M388.0,572.5 L394.2,574.7" stroke-width="2"/>
<circle cx="403.02922940655446" cy="579.6014171833481" r="3" fill="#000" stroke="none"/>
<path d="M403.0,581.4 L418.1,590.2 M426.1,592.9 L430.5,595.5 M434.9,598.2 L448.2,604.4" stroke-width="2.4"/>
<path d="M447.3,606.2 L457.1,612.4 L460.6,609.7 L459.7,590.2 L463.3,586.7 L463.3,582.3 L459.7,579.6 L459.7,576.1 L473.0,564.5 L473.9,561.9 L462.4,562.3" stroke-width="3.2"/>
<path d="M457.1,612.4 L456.2,591.1 L459.7,586.7 L457.9,577.8 L467.7,567.2" stroke-width="1.5"/>
<path d="M636.9,603.8 C638.3,602.6 677.8,581.4 680.9,579.7 C683.9,578.0 725.8,554.2 727.6,553.5 C729.5,552.8 735.8,557.9 736.1,558.4 C736.4,559.0 738.3,569.2 736.8,570.5 C735.4,571.7 695.2,593.6 692.2,595.3 C689.2,596.9 650.1,618.7 648.3,619.4 C646.5,620.0 638.7,615.6 638.3,615.1 C638.0,614.6 635.5,605.0 636.9,603.8 Z" fill="#000" stroke-width="1.5"/>
<path d="M639.8,616.5 C638.1,617.7 633.1,622.2 629.8,623.6 C626.5,625.0 622.0,625.7 619.9,625.0 C617.8,624.3 616.1,620.8 617.1,619.4 C618.0,617.9 624.2,617.0 625.6,616.5" stroke-width="3.2"/>
<path d="M734.7,555.6 C737.3,554.1 746.2,547.8 750.3,546.4 C754.4,545.0 757.6,546.0 759.5,547.1 C761.4,548.1 762.0,551.3 761.6,552.8 C761.3,554.2 758.1,555.1 757.4,555.6" stroke-width="3.2"/>
<path d="M633.6,700.9 C634.4,699.5 640.8,695.0 641.9,694.9 C642.9,694.8 648.9,698.3 649.3,699.4 C649.8,700.5 649.2,709.0 648.6,711.4 C648.0,713.8 641.2,733.4 640.4,735.3 C639.6,737.2 637.5,739.5 636.6,739.8 C635.7,740.0 627.8,739.6 626.9,739.0 C626.0,738.5 623.0,733.1 623.2,731.6 C623.4,730.0 629.2,717.9 629.9,715.9 C630.6,713.8 632.8,702.3 633.6,700.9 Z" fill="#000" stroke-width="1.5"/>
<path d="M641.9,697.2 C641.9,696.1 641.1,692.0 641.9,690.5 C642.6,689.0 645.1,687.8 646.3,688.2 C647.6,688.6 649.3,691.2 649.3,692.7 C649.3,694.2 646.8,696.4 646.3,697.2" stroke-width="3.2"/>
<path d="M629.1,739.0 C628.3,741.0 625.5,746.8 623.9,751.0 C622.3,755.2 620.9,761.3 619.4,764.5 C617.9,767.6 616.2,769.4 614.9,769.7 C613.7,769.9 612.3,767.3 612.0,765.9 C611.6,764.6 612.6,762.2 612.7,761.5" stroke-width="3.6"/>
<path d="M758.9,757.2 C761.0,755.6 818.7,722.5 821.1,721.5 C823.5,720.4 830.0,725.4 830.3,726.1 C830.7,726.7 833.5,738.3 831.5,739.9 C829.5,741.4 772.8,771.2 770.4,772.1 C768.0,773.0 759.3,768.0 758.9,767.5 C758.5,767.0 756.8,758.7 758.9,757.2 Z" fill="#000" stroke-width="1.5"/>
<path d="M761.2,769.8 C758.9,771.2 751.0,777.1 747.4,777.9 C743.8,778.6 740.3,776.0 739.3,774.4 C738.4,772.9 740.3,769.8 741.6,768.7 C743.0,767.5 746.4,767.7 747.4,767.5" stroke-width="3.2"/>
<path d="M830.3,723.8 C833.2,722.0 844.7,716.3 847.6,713.4 C850.5,710.5 849.3,707.8 847.6,706.5 C845.9,705.1 838.9,705.5 837.2,705.3" stroke-width="3.2"/>
<path d="M786.8,471.3 L792.1,465.9 L798.3,465.9 L801.9,471.3 L800.1,479.2 L793.0,484.5 L786.8,482.8 L785.5,476.6 Z" stroke-width="3.4"/>
<ellipse transform="translate(795.6864481842339,476.5721877767936) rotate(-30)" rx="3.5" ry="5.2" stroke-width="2.6"/>
<path d="M795.7,472.1 L837.3,496.9" stroke-width="3"/>
<path d="M793.9,481.0 L832.9,504.0" stroke-width="3"/>
<ellipse transform="translate(841.7449069973428,503.1443755535872) rotate(25)" rx="7" ry="5" stroke-width="3.4"/>
<path d="M960.8,588.9 L972.5,586.2 L994.8,601.6 L993.8,613.3 L985.3,621.3 L959.8,605.9 Z" fill="#000" stroke-width="2"/>
<path d="M937.4,557.0 L943.8,559.1 L943.8,584.6 L960.8,592.1" stroke-width="2.2"/>
<path d="M993.8,613.3 L1008.7,620.8" stroke-width="2.2"/>
<ellipse transform="translate(1017.6913265306123,627.1598639455782) rotate(-20)" rx="9.5" ry="11.5" stroke-width="3.6"/>
<path d="M1014.0,624.0 C1015.0,623.6 1018.9,621.3 1020.3,621.8 C1021.8,622.4 1022.8,625.4 1022.5,627.2 C1022.1,628.9 1019.5,631.8 1018.2,632.5 C1017.0,633.2 1015.6,631.6 1015.0,631.4" stroke-width="2.4"/>
<path d="M1023.5,630.3 L1032.6,634.6" stroke-width="2.4"/>
<g><path d="M541.2,649.4 C538.5,652.2 530.0,659.1 524.8,665.9 C519.6,672.6 514.4,680.8 509.9,689.8 C505.4,698.7 500.4,709.7 497.9,719.6 C495.4,729.6 494.7,740.5 494.9,749.5 C495.2,758.5 496.4,766.2 499.4,773.4 C502.4,780.6 507.4,787.4 512.9,792.8 C518.3,798.3 526.6,803.0 532.3,806.3 C538.0,809.5 542.0,811.0 547.2,812.3 C552.5,813.5 560.9,813.5 563.7,813.7 L547.2,809.3 C544.5,807.3 534.7,801.3 530.8,797.3 C526.9,793.3 525.5,789.9 524.1,785.4 C522.6,780.8 522.1,776.0 522.0,770.0 C521.9,764.0 522.4,756.2 523.3,749.5 C524.2,742.8 526.0,736.9 527.5,729.9 C529.0,723.0 529.9,714.3 532.3,707.7 C534.7,701.0 538.8,694.8 542.0,690.1 C545.2,685.3 548.1,683.0 551.7,679.3 C555.3,675.6 561.7,670.0 563.7,668.1 Z" fill="url(#spk)" stroke="none"/>
<path d="M541.2,649.4 C538.5,652.2 530.0,659.1 524.8,665.9 C519.6,672.6 514.4,680.8 509.9,689.8 C505.4,698.7 500.4,709.7 497.9,719.6 C495.4,729.6 494.7,740.5 494.9,749.5 C495.2,758.5 496.4,766.2 499.4,773.4 C502.4,780.6 507.4,787.4 512.9,792.8 C518.3,798.3 526.6,803.0 532.3,806.3 C538.0,809.5 542.0,811.0 547.2,812.3 C552.5,813.5 560.9,813.5 563.7,813.7" stroke-width="3"/>
<path d="M563.7,668.1 C561.7,670.0 555.3,675.6 551.7,679.3 C548.1,683.0 545.2,685.3 542.0,690.1 C538.8,694.8 534.7,701.0 532.3,707.7 C529.9,714.3 529.0,723.0 527.5,729.9 C526.0,736.9 524.2,742.8 523.3,749.5 C522.4,756.2 521.9,764.0 522.0,770.0 C522.1,776.0 522.6,780.8 524.1,785.4 C525.5,789.9 526.9,793.3 530.8,797.3 C534.7,801.3 544.5,807.3 547.2,809.3 L563.7,806.3 C560.3,805.0 548.6,802.0 543.5,798.8 C538.4,795.6 535.4,791.7 533.0,786.9 C530.7,782.1 529.8,776.2 529.3,770.0 C528.8,763.8 529.2,756.2 530.0,749.5 C530.8,742.8 532.1,736.9 534.1,729.9 C536.1,723.0 538.6,714.3 542.0,707.7 C545.4,701.0 550.3,694.5 554.7,690.1 C559.1,685.6 564.2,683.6 568.1,680.8 C572.1,678.0 576.9,674.6 578.6,673.3 Z" fill="#000" stroke-width="1.5"/>
<path d="M536.8,771.9 C536.6,774.2 534.6,781.4 535.6,785.4 C536.6,789.3 541.5,794.1 542.7,795.8" stroke="#f8f8f8" stroke-width="1" stroke-dasharray="3 4"/>
<path d="M541.2,649.4 L556.2,640.5 L586.1,658.4 L578.6,673.3" stroke-width="2.8"/>
<path d="M550.2,644.9 L563.7,668.1 L581.6,659.9" stroke-width="2"/>
<path d="M563.7,665.9 L583.1,659.1 L578.6,673.3 L563.7,669.6 Z" fill="#000" stroke-width="2"/>
<path d="M532.3,777.9 L556.2,770.4 L577.1,779.4 L575.6,791.3 L587.6,798.8 L584.6,804.8 L563.7,813.7" stroke-width="2.8"/>
<path d="M535.3,785.4 C538.5,784.4 549.0,778.9 554.7,779.4 C560.4,779.9 566.1,786.4 569.6,788.4 C573.1,790.3 574.6,790.8 575.6,791.3" stroke-width="2"/>
<path d="M544.2,798.8 C547.2,798.6 556.9,798.6 562.2,797.3 C567.4,796.1 573.4,792.3 575.6,791.3" stroke-width="2"/>
<path d="M566.6,800.3 L586.1,798.8" stroke-width="2"/>
<circle cx="569.632506722438" cy="800.3017627726322" r="2.2" fill="#000" stroke="none"/></g>
<g><path d="M867.3,469.3 C870.3,469.7 879.9,470.2 885.4,471.6 C890.9,472.9 895.9,475.3 900.5,477.6 C905.0,479.8 908.5,482.4 912.5,485.1 C916.5,487.9 921.0,490.6 924.6,494.2 C928.1,497.7 931.3,502.2 933.6,506.2 C935.9,510.2 937.1,513.7 938.1,518.2 C939.1,522.8 939.5,528.8 939.6,533.3 C939.7,537.8 939.9,540.3 938.9,545.3 C937.9,550.4 936.0,557.1 933.6,563.4 C931.2,569.7 927.6,577.0 924.6,583.0 C921.5,589.0 919.0,593.8 915.5,599.6 C912.0,605.3 907.5,612.1 903.5,617.6 C899.5,623.1 895.7,628.7 891.4,632.7 C887.2,636.7 880.1,640.2 877.9,641.7 L874.9,635.7 C875.9,634.9 877.9,633.9 880.9,631.2 C883.9,628.4 888.4,624.7 892.9,619.1 C897.5,613.6 903.9,604.3 908.0,598.1 C912.1,591.8 914.8,587.5 917.8,581.5 C920.8,575.5 923.9,568.2 926.1,561.9 C928.2,555.6 930.1,549.9 930.6,543.8 C931.1,537.8 930.3,531.5 929.1,525.8 C927.8,520.0 925.8,514.2 923.1,509.2 C920.3,504.2 917.0,499.7 912.5,495.7 C908.0,491.6 903.2,488.1 895.9,485.1 C888.7,482.1 873.4,478.8 868.8,477.6 Z" fill="url(#spk)" stroke="none"/>
<path d="M867.3,469.3 C870.3,469.7 879.9,470.2 885.4,471.6 C890.9,472.9 895.9,475.3 900.5,477.6 C905.0,479.8 908.5,482.4 912.5,485.1 C916.5,487.9 921.0,490.6 924.6,494.2 C928.1,497.7 931.3,502.2 933.6,506.2 C935.9,510.2 937.1,513.7 938.1,518.2 C939.1,522.8 939.5,528.8 939.6,533.3 C939.7,537.8 939.9,540.3 938.9,545.3 C937.9,550.4 936.0,557.1 933.6,563.4 C931.2,569.7 927.6,577.0 924.6,583.0 C921.5,589.0 919.0,593.8 915.5,599.6 C912.0,605.3 907.5,612.1 903.5,617.6 C899.5,623.1 895.7,628.7 891.4,632.7 C887.2,636.7 880.1,640.2 877.9,641.7" stroke-width="3.8"/>
<path d="M868.8,477.6 C873.4,478.8 888.7,482.1 895.9,485.1 C903.2,488.1 908.0,491.6 912.5,495.7 C917.0,499.7 920.3,504.2 923.1,509.2 C925.8,514.2 927.8,520.0 929.1,525.8 C930.3,531.5 931.1,537.8 930.6,543.8 C930.1,549.9 928.2,555.6 926.1,561.9 C923.9,568.2 920.8,575.5 917.8,581.5 C914.8,587.5 912.1,591.8 908.0,598.1 C903.9,604.3 897.5,613.6 892.9,619.1 C888.4,624.7 883.9,628.4 880.9,631.2 C877.9,633.9 875.9,634.9 874.9,635.7" stroke-width="2.8"/>
<path d="M894.4,495.7 C897.0,497.2 905.5,499.9 909.5,504.7 C913.5,509.5 917.0,517.0 918.5,524.3 C920.0,531.5 919.5,540.8 918.5,548.4 C917.5,555.9 915.5,562.4 912.5,569.4 C909.5,576.5 905.0,583.7 900.5,590.5 C895.9,597.3 890.7,603.3 885.4,610.1 C880.1,616.9 871.6,627.7 868.8,631.2" stroke-width="2.4"/>
<path d="M899.0,498.7 C900.0,501.9 903.7,511.5 905.0,518.2 C906.2,525.0 907.0,531.3 906.5,539.3 C906.0,547.4 904.7,558.4 902.0,566.4 C899.2,574.5 891.9,584.0 889.9,587.5" stroke-width="1.8"/>
<path d="M847.9,478.3 L868.8,471.0 L886.8,484.4 L880.7,494.8 L851.8,487.4 Z" stroke-width="3.2"/>
<path d="M847.9,478.3 L849.4,505.7 L874.9,516.1 L880.7,494.8" stroke-width="3"/>
<path d="M874.9,516.1 C876.1,517.2 879.9,521.2 882.4,522.8 C884.9,524.4 888.7,525.3 889.9,525.8" stroke-width="2.8"/>
<path d="M868.8,471.0 L876.4,467.0 L897.5,479.1 L886.8,484.4" stroke-width="2.6"/>
<path d="M871.9,471.6 L891.4,480.6" stroke-width="1.6" stroke-dasharray="3 3"/>
<path d="M855.3,492.6 C854.9,493.6 853.0,496.7 853.0,498.7 C853.0,500.7 854.9,503.7 855.3,504.7" stroke-width="2"/>
<path d="M859.8,492.6 C859.4,493.6 857.5,496.7 857.5,498.7 C857.5,500.7 859.4,503.7 859.8,504.7" stroke-width="2"/>
<path d="M864.3,492.6 C863.9,493.6 862.1,496.7 862.1,498.7 C862.1,500.7 863.9,503.7 864.3,504.7" stroke-width="2"/>
<ellipse transform="translate(871.853636500527,500.1739195904231) rotate(20)" rx="3" ry="5" stroke-width="2.4"/>
<path d="M885.4,525.8 L885.4,583.0" stroke-width="2.8"/>
<path d="M888.4,527.3 L888.4,583.0" stroke-width="1.6"/>
<path d="M892.9,531.8 L903.5,527.3" stroke-width="2"/>
<path d="M900.5,575.5 C898.5,576.7 892.9,580.5 888.4,583.0 C883.9,585.5 878.4,587.8 873.4,590.5 C868.3,593.3 862.1,596.3 858.3,599.6 C854.5,602.8 852.0,608.3 850.8,610.1" stroke-width="3"/>
<path d="M850.8,610.1 L850.0,626.7 L864.3,634.2 L877.9,641.7" stroke-width="3.2"/>
<path d="M855.3,617.6 L864.3,626.7 L868.8,631.2" stroke-width="2"/>
<ellipse transform="translate(891.4290016563771,590.5217587712693) rotate(-40)" rx="4.5" ry="7.5" fill="#000" stroke-width="2"/>
<ellipse transform="translate(895.193494955579,589.0159614515886) rotate(-40)" rx="1.8" ry="4" fill="#f8f8f8" stroke="none"/>
<ellipse transform="translate(912.5101641319079,540.830447221804) rotate(-20)" rx="3.5" ry="4.5" fill="#000" stroke-width="2"/>
<ellipse transform="translate(924.556542689354,558.9000150579732) rotate(-20)" rx="3.8" ry="5.2" fill="#000" stroke-width="2"/>
<circle cx="861.3130552627616" cy="626.660894443608" r="2.5" stroke-width="2"/>
<circle cx="885.405812377654" cy="626.660894443608" r="2.5" stroke-width="2"/></g>
<g transform="translate(-344,451)"><path d="M541.2,649.4 C538.5,652.2 530.0,659.1 524.8,665.9 C519.6,672.6 514.4,680.8 509.9,689.8 C505.4,698.7 500.4,709.7 497.9,719.6 C495.4,729.6 494.7,740.5 494.9,749.5 C495.2,758.5 496.4,766.2 499.4,773.4 C502.4,780.6 507.4,787.4 512.9,792.8 C518.3,798.3 526.6,803.0 532.3,806.3 C538.0,809.5 542.0,811.0 547.2,812.3 C552.5,813.5 560.9,813.5 563.7,813.7 L554.6,807.9 C551.6,806.3 540.9,801.6 536.5,798.0 C532.1,794.3 530.0,790.7 528.1,786.0 C526.2,781.4 525.6,776.1 525.3,770.0 C525.0,763.9 525.5,756.2 526.3,749.5 C527.2,742.8 528.7,736.9 530.5,729.9 C532.2,723.0 533.8,714.3 536.7,707.7 C539.5,701.0 544.0,694.7 547.7,690.1 C551.5,685.4 555.3,683.2 559.1,680.0 C562.9,676.7 568.5,672.0 570.4,670.4 Z" fill="url(#spk)" stroke="none"/>
<path d="M541.2,649.4 C538.5,652.2 530.0,659.1 524.8,665.9 C519.6,672.6 514.4,680.8 509.9,689.8 C505.4,698.7 500.4,709.7 497.9,719.6 C495.4,729.6 494.7,740.5 494.9,749.5 C495.2,758.5 496.4,766.2 499.4,773.4 C502.4,780.6 507.4,787.4 512.9,792.8 C518.3,798.3 526.6,803.0 532.3,806.3 C538.0,809.5 542.0,811.0 547.2,812.3 C552.5,813.5 560.9,813.5 563.7,813.7" stroke-width="3"/>
<path d="M570.4,670.4 C568.5,672.0 562.9,676.7 559.1,680.0 C555.3,683.2 551.5,685.4 547.7,690.1 C544.0,694.7 539.5,701.0 536.7,707.7 C533.8,714.3 532.2,723.0 530.5,729.9 C528.7,736.9 527.2,742.8 526.3,749.5 C525.5,756.2 525.0,763.9 525.3,770.0 C525.6,776.1 526.2,781.4 528.1,786.0 C530.0,790.7 532.1,794.3 536.5,798.0 C540.9,801.6 551.6,806.3 554.6,807.9 L563.7,806.3 C560.3,805.0 548.6,802.0 543.5,798.8 C538.4,795.6 535.4,791.7 533.0,786.9 C530.7,782.1 529.8,776.2 529.3,770.0 C528.8,763.8 529.2,756.2 530.0,749.5 C530.8,742.8 532.1,736.9 534.1,729.9 C536.1,723.0 538.6,714.3 542.0,707.7 C545.4,701.0 550.3,694.5 554.7,690.1 C559.1,685.6 564.2,683.6 568.1,680.8 C572.1,678.0 576.9,674.6 578.6,673.3 Z" fill="#000" stroke-width="1.5"/>
<path d="M536.8,771.9 C536.6,774.2 534.6,781.4 535.6,785.4 C536.6,789.3 541.5,794.1 542.7,795.8" stroke="#f8f8f8" stroke-width="1" stroke-dasharray="3 4"/>
<path d="M541.2,649.4 L556.2,640.5 L586.1,658.4 L578.6,673.3" stroke-width="2.8"/>
<path d="M550.2,644.9 L563.7,668.1 L581.6,659.9" stroke-width="2"/>
<path d="M563.7,665.9 L583.1,659.1 L578.6,673.3 L563.7,669.6 Z" fill="#000" stroke-width="2"/>
<path d="M532.3,777.9 L556.2,770.4 L577.1,779.4 L575.6,791.3 L587.6,798.8 L584.6,804.8 L563.7,813.7" stroke-width="2.8"/>
<path d="M535.3,785.4 C538.5,784.4 549.0,778.9 554.7,779.4 C560.4,779.9 566.1,786.4 569.6,788.4 C573.1,790.3 574.6,790.8 575.6,791.3" stroke-width="2"/>
<path d="M544.2,798.8 C547.2,798.6 556.9,798.6 562.2,797.3 C567.4,796.1 573.4,792.3 575.6,791.3" stroke-width="2"/>
<path d="M566.6,800.3 L586.1,798.8" stroke-width="2"/>
<circle cx="569.632506722438" cy="800.3017627726322" r="2.2" fill="#000" stroke="none"/></g>
<g transform="translate(-112,451)"><path d="M541.2,649.4 C538.5,652.2 530.0,659.1 524.8,665.9 C519.6,672.6 514.4,680.8 509.9,689.8 C505.4,698.7 500.4,709.7 497.9,719.6 C495.4,729.6 494.7,740.5 494.9,749.5 C495.2,758.5 496.4,766.2 499.4,773.4 C502.4,780.6 507.4,787.4 512.9,792.8 C518.3,798.3 526.6,803.0 532.3,806.3 C538.0,809.5 542.0,811.0 547.2,812.3 C552.5,813.5 560.9,813.5 563.7,813.7 L554.6,807.9 C551.6,806.3 540.9,801.6 536.5,798.0 C532.1,794.3 530.0,790.7 528.1,786.0 C526.2,781.4 525.6,776.1 525.3,770.0 C525.0,763.9 525.5,756.2 526.3,749.5 C527.2,742.8 528.7,736.9 530.5,729.9 C532.2,723.0 533.8,714.3 536.7,707.7 C539.5,701.0 544.0,694.7 547.7,690.1 C551.5,685.4 555.3,683.2 559.1,680.0 C562.9,676.7 568.5,672.0 570.4,670.4 Z" fill="url(#spk)" stroke="none"/>
<path d="M541.2,649.4 C538.5,652.2 530.0,659.1 524.8,665.9 C519.6,672.6 514.4,680.8 509.9,689.8 C505.4,698.7 500.4,709.7 497.9,719.6 C495.4,729.6 494.7,740.5 494.9,749.5 C495.2,758.5 496.4,766.2 499.4,773.4 C502.4,780.6 507.4,787.4 512.9,792.8 C518.3,798.3 526.6,803.0 532.3,806.3 C538.0,809.5 542.0,811.0 547.2,812.3 C552.5,813.5 560.9,813.5 563.7,813.7" stroke-width="3"/>
<path d="M570.4,670.4 C568.5,672.0 562.9,676.7 559.1,680.0 C555.3,683.2 551.5,685.4 547.7,690.1 C544.0,694.7 539.5,701.0 536.7,707.7 C533.8,714.3 532.2,723.0 530.5,729.9 C528.7,736.9 527.2,742.8 526.3,749.5 C525.5,756.2 525.0,763.9 525.3,770.0 C525.6,776.1 526.2,781.4 528.1,786.0 C530.0,790.7 532.1,794.3 536.5,798.0 C540.9,801.6 551.6,806.3 554.6,807.9 L563.7,806.3 C560.3,805.0 548.6,802.0 543.5,798.8 C538.4,795.6 535.4,791.7 533.0,786.9 C530.7,782.1 529.8,776.2 529.3,770.0 C528.8,763.8 529.2,756.2 530.0,749.5 C530.8,742.8 532.1,736.9 534.1,729.9 C536.1,723.0 538.6,714.3 542.0,707.7 C545.4,701.0 550.3,694.5 554.7,690.1 C559.1,685.6 564.2,683.6 568.1,680.8 C572.1,678.0 576.9,674.6 578.6,673.3 Z" fill="#000" stroke-width="1.5"/>
<path d="M536.8,771.9 C536.6,774.2 534.6,781.4 535.6,785.4 C536.6,789.3 541.5,794.1 542.7,795.8" stroke="#f8f8f8" stroke-width="1" stroke-dasharray="3 4"/>
<path d="M541.2,649.4 L556.2,640.5 L586.1,658.4 L578.6,673.3" stroke-width="2.8"/>
<path d="M550.2,644.9 L563.7,668.1 L581.6,659.9" stroke-width="2"/>
<path d="M563.7,665.9 L583.1,659.1 L578.6,673.3 L563.7,669.6 Z" fill="#000" stroke-width="2"/>
<path d="M532.3,777.9 L556.2,770.4 L577.1,779.4 L575.6,791.3 L587.6,798.8 L584.6,804.8 L563.7,813.7" stroke-width="2.8"/>
<path d="M535.3,785.4 C538.5,784.4 549.0,778.9 554.7,779.4 C560.4,779.9 566.1,786.4 569.6,788.4 C573.1,790.3 574.6,790.8 575.6,791.3" stroke-width="2"/>
<path d="M544.2,798.8 C547.2,798.6 556.9,798.6 562.2,797.3 C567.4,796.1 573.4,792.3 575.6,791.3" stroke-width="2"/>
<path d="M566.6,800.3 L586.1,798.8" stroke-width="2"/>
<circle cx="569.632506722438" cy="800.3017627726322" r="2.2" fill="#000" stroke="none"/></g>
<path d="M272.6,1056.9 C277.2,1058.3 292.0,1061.7 300.3,1065.2 C308.6,1068.7 315.9,1072.6 322.4,1077.6 C328.8,1082.7 335.0,1088.7 338.9,1095.6 C342.9,1102.5 344.9,1110.6 345.9,1119.1 C346.8,1127.6 346.3,1137.5 344.5,1146.7 C342.6,1155.9 339.2,1165.1 334.8,1174.3 C330.4,1183.6 324.0,1193.9 318.2,1202.0 C312.5,1210.0 306.0,1218.1 300.3,1222.7 C294.5,1227.3 286.4,1228.5 283.7,1229.6 L289.2,1222.7 C292.2,1219.7 301.6,1211.6 307.2,1204.7 C312.7,1197.8 318.0,1189.8 322.4,1181.3 C326.7,1172.7 331.1,1162.8 333.4,1153.6 C335.7,1144.4 336.6,1134.5 336.2,1126.0 C335.7,1117.5 334.3,1109.2 330.7,1102.5 C327.0,1095.8 319.6,1089.4 314.1,1085.9 C308.6,1082.5 300.3,1082.5 297.5,1081.8 Z" fill="url(#spk)" stroke="none"/>
<path d="M272.6,1056.9 C277.2,1058.3 292.0,1061.7 300.3,1065.2 C308.6,1068.7 315.9,1072.6 322.4,1077.6 C328.8,1082.7 335.0,1088.7 338.9,1095.6 C342.9,1102.5 344.9,1110.6 345.9,1119.1 C346.8,1127.6 346.3,1137.5 344.5,1146.7 C342.6,1155.9 339.2,1165.1 334.8,1174.3 C330.4,1183.6 324.0,1193.9 318.2,1202.0 C312.5,1210.0 306.0,1218.1 300.3,1222.7 C294.5,1227.3 286.4,1228.5 283.7,1229.6" stroke-width="4"/>
<path d="M297.5,1081.8 C300.3,1082.5 308.6,1082.5 314.1,1085.9 C319.6,1089.4 327.0,1095.8 330.7,1102.5 C334.3,1109.2 335.7,1117.5 336.2,1126.0 C336.6,1134.5 335.7,1144.4 333.4,1153.6 C331.1,1162.8 326.7,1172.7 322.4,1181.3 C318.0,1189.8 312.7,1197.8 307.2,1204.7 C301.6,1211.6 292.2,1219.7 289.2,1222.7" stroke-width="2.8"/>
<path d="M314.1,1085.9 C315.5,1089.1 320.8,1097.4 322.4,1105.3 C324.0,1113.1 324.9,1122.5 323.8,1132.9 C322.6,1143.3 319.4,1157.1 315.5,1167.4 C311.5,1177.8 306.9,1186.1 300.3,1195.1 C293.6,1204.0 279.5,1216.9 275.4,1221.3" stroke-width="2.4"/>
<path d="M278.2,1092.8 C281.2,1093.5 291.5,1094.0 296.1,1097.0 C300.7,1100.0 303.9,1104.8 305.8,1110.8 C307.6,1116.8 308.1,1125.1 307.2,1132.9 C306.3,1140.7 303.0,1151.8 300.3,1157.8 C297.5,1163.8 293.4,1165.8 290.6,1168.8 C287.8,1171.8 284.8,1174.6 283.7,1175.7" stroke-width="3"/>
<path d="M286.4,1108.0 L286.4,1167.4" stroke-width="2.4"/>
<path d="M289.9,1109.4 L289.9,1167.4" stroke-width="1.6"/>
<path d="M272.6,1095.6 L280.9,1106.6 L289.2,1108.0" stroke-width="2.6"/>
<path d="M283.7,1174.3 C281.8,1175.7 267.1,1185.7 264.3,1188.2 C261.6,1190.6 257.0,1196.9 256.1,1199.2 C255.1,1201.6 253.7,1209.7 254.7,1211.6 C255.6,1213.6 262.5,1216.9 265.7,1218.6 C268.9,1220.2 284.4,1227.3 286.4,1228.2" stroke-width="3.4"/>
<path d="M251.9,1068.0 L272.6,1056.9 L309.9,1069.3 L289.2,1083.2 Z" stroke-width="3.2"/>
<path d="M251.9,1068.0 L253.3,1084.5 L276.8,1094.2 L290.6,1083.2" stroke-width="3"/>
<path d="M272.6,1056.9 L280.9,1055.5 L311.3,1068.0 L309.9,1069.3" stroke-width="2.6"/>
<path d="M258.8,1077.6 C258.5,1078.6 256.7,1081.1 256.7,1083.2 C256.7,1085.2 258.5,1088.9 258.8,1090.1" stroke-width="2"/>
<path d="M264.3,1077.6 C264.0,1078.6 262.3,1081.1 262.3,1083.2 C262.3,1085.2 264.0,1088.9 264.3,1090.1" stroke-width="2"/>
<path d="M269.9,1077.6 C269.5,1078.6 267.8,1081.1 267.8,1083.2 C267.8,1085.2 269.5,1088.9 269.9,1090.1" stroke-width="2"/>
<circle cx="315.5" cy="1130.1" r="4.5" stroke-width="2.6"/>
<circle cx="332.0" cy="1146.7" r="4" stroke-width="2.6"/>
<circle cx="309.9" cy="1164.7" r="4" stroke-width="2.6"/>
<circle cx="264.3" cy="1215.8" r="2.6" stroke-width="2.2"/>
<circle cx="290.6" cy="1215.8" r="2.6" stroke-width="2.2"/>
<g transform="translate(-367,590)"><path d="M867.3,469.3 C870.3,469.7 879.9,470.2 885.4,471.6 C890.9,472.9 895.9,475.3 900.5,477.6 C905.0,479.8 908.5,482.4 912.5,485.1 C916.5,487.9 921.0,490.6 924.6,494.2 C928.1,497.7 931.3,502.2 933.6,506.2 C935.9,510.2 937.1,513.7 938.1,518.2 C939.1,522.8 939.5,528.8 939.6,533.3 C939.7,537.8 939.9,540.3 938.9,545.3 C937.9,550.4 936.0,557.1 933.6,563.4 C931.2,569.7 927.6,577.0 924.6,583.0 C921.5,589.0 919.0,593.8 915.5,599.6 C912.0,605.3 907.5,612.1 903.5,617.6 C899.5,623.1 895.7,628.7 891.4,632.7 C887.2,636.7 880.1,640.2 877.9,641.7 L874.9,635.7 C875.9,634.9 877.9,633.9 880.9,631.2 C883.9,628.4 888.4,624.7 892.9,619.1 C897.5,613.6 903.9,604.3 908.0,598.1 C912.1,591.8 914.8,587.5 917.8,581.5 C920.8,575.5 923.9,568.2 926.1,561.9 C928.2,555.6 930.1,549.9 930.6,543.8 C931.1,537.8 930.3,531.5 929.1,525.8 C927.8,520.0 925.8,514.2 923.1,509.2 C920.3,504.2 917.0,499.7 912.5,495.7 C908.0,491.6 903.2,488.1 895.9,485.1 C888.7,482.1 873.4,478.8 868.8,477.6 Z" fill="url(#spk)" stroke="none"/>
<path d="M867.3,469.3 C870.3,469.7 879.9,470.2 885.4,471.6 C890.9,472.9 895.9,475.3 900.5,477.6 C905.0,479.8 908.5,482.4 912.5,485.1 C916.5,487.9 921.0,490.6 924.6,494.2 C928.1,497.7 931.3,502.2 933.6,506.2 C935.9,510.2 937.1,513.7 938.1,518.2 C939.1,522.8 939.5,528.8 939.6,533.3 C939.7,537.8 939.9,540.3 938.9,545.3 C937.9,550.4 936.0,557.1 933.6,563.4 C931.2,569.7 927.6,577.0 924.6,583.0 C921.5,589.0 919.0,593.8 915.5,599.6 C912.0,605.3 907.5,612.1 903.5,617.6 C899.5,623.1 895.7,628.7 891.4,632.7 C887.2,636.7 880.1,640.2 877.9,641.7" stroke-width="3.8"/>
<path d="M868.8,477.6 C873.4,478.8 888.7,482.1 895.9,485.1 C903.2,488.1 908.0,491.6 912.5,495.7 C917.0,499.7 920.3,504.2 923.1,509.2 C925.8,514.2 927.8,520.0 929.1,525.8 C930.3,531.5 931.1,537.8 930.6,543.8 C930.1,549.9 928.2,555.6 926.1,561.9 C923.9,568.2 920.8,575.5 917.8,581.5 C914.8,587.5 912.1,591.8 908.0,598.1 C903.9,604.3 897.5,613.6 892.9,619.1 C888.4,624.7 883.9,628.4 880.9,631.2 C877.9,633.9 875.9,634.9 874.9,635.7" stroke-width="2.8"/>
<path d="M894.4,495.7 C897.0,497.2 905.5,499.9 909.5,504.7 C913.5,509.5 917.0,517.0 918.5,524.3 C920.0,531.5 919.5,540.8 918.5,548.4 C917.5,555.9 915.5,562.4 912.5,569.4 C909.5,576.5 905.0,583.7 900.5,590.5 C895.9,597.3 890.7,603.3 885.4,610.1 C880.1,616.9 871.6,627.7 868.8,631.2" stroke-width="2.4"/>
<path d="M899.0,498.7 C900.0,501.9 903.7,511.5 905.0,518.2 C906.2,525.0 907.0,531.3 906.5,539.3 C906.0,547.4 904.7,558.4 902.0,566.4 C899.2,574.5 891.9,584.0 889.9,587.5" stroke-width="1.8"/>
<path d="M847.9,478.3 L868.8,471.0 L886.8,484.4 L880.7,494.8 L851.8,487.4 Z" stroke-width="3.2"/>
<path d="M847.9,478.3 L849.4,505.7 L874.9,516.1 L880.7,494.8" stroke-width="3"/>
<path d="M874.9,516.1 C876.1,517.2 879.9,521.2 882.4,522.8 C884.9,524.4 888.7,525.3 889.9,525.8" stroke-width="2.8"/>
<path d="M868.8,471.0 L876.4,467.0 L897.5,479.1 L886.8,484.4" stroke-width="2.6"/>
<path d="M871.9,471.6 L891.4,480.6" stroke-width="1.6" stroke-dasharray="3 3"/>
<path d="M855.3,492.6 C854.9,493.6 853.0,496.7 853.0,498.7 C853.0,500.7 854.9,503.7 855.3,504.7" stroke-width="2"/>
<path d="M859.8,492.6 C859.4,493.6 857.5,496.7 857.5,498.7 C857.5,500.7 859.4,503.7 859.8,504.7" stroke-width="2"/>
<path d="M864.3,492.6 C863.9,493.6 862.1,496.7 862.1,498.7 C862.1,500.7 863.9,503.7 864.3,504.7" stroke-width="2"/>
<ellipse transform="translate(871.853636500527,500.1739195904231) rotate(20)" rx="3" ry="5" stroke-width="2.4"/>
<path d="M885.4,525.8 L885.4,583.0" stroke-width="2.8"/>
<path d="M888.4,527.3 L888.4,583.0" stroke-width="1.6"/>
<path d="M892.9,531.8 L903.5,527.3" stroke-width="2"/>
<path d="M900.5,575.5 C898.5,576.7 892.9,580.5 888.4,583.0 C883.9,585.5 878.4,587.8 873.4,590.5 C868.3,593.3 862.1,596.3 858.3,599.6 C854.5,602.8 852.0,608.3 850.8,610.1" stroke-width="3"/>
<path d="M850.8,610.1 L850.0,626.7 L864.3,634.2 L877.9,641.7" stroke-width="3.2"/>
<path d="M855.3,617.6 L864.3,626.7 L868.8,631.2" stroke-width="2"/>
<ellipse transform="translate(891.4290016563771,590.5217587712693) rotate(-40)" rx="4.5" ry="7.5" fill="#000" stroke-width="2"/>
<ellipse transform="translate(895.193494955579,589.0159614515886) rotate(-40)" rx="1.8" ry="4" fill="#f8f8f8" stroke="none"/>
<ellipse transform="translate(912.5101641319079,540.830447221804) rotate(-20)" rx="3.5" ry="4.5" fill="#000" stroke-width="2"/>
<ellipse transform="translate(924.556542689354,558.9000150579732) rotate(-20)" rx="3.8" ry="5.2" fill="#000" stroke-width="2"/>
<circle cx="861.3130552627616" cy="626.660894443608" r="2.5" stroke-width="2"/>
<circle cx="885.405812377654" cy="626.660894443608" r="2.5" stroke-width="2"/></g>
<path d="M952.4,1048.6 C961.2,1045.3 968.7,1044.8 975.8,1044.4 C983.0,1043.9 989.5,1044.2 995.3,1045.7 C1001.1,1047.2 1005.0,1049.8 1010.9,1053.5 C1016.7,1057.2 1023.9,1062.1 1030.4,1068.1 C1036.9,1074.1 1045.0,1082.1 1049.9,1089.6 C1054.7,1097.0 1057.6,1102.6 1059.6,1112.9 C1061.6,1123.3 1062.6,1140.5 1061.9,1151.9 C1061.3,1163.3 1059.3,1169.8 1055.7,1181.1 C1052.1,1192.5 1046.0,1209.4 1040.1,1220.1 C1034.3,1230.8 1028.7,1237.7 1020.6,1245.4 C1012.5,1253.2 1001.1,1261.8 991.4,1266.9 C981.7,1271.9 970.3,1274.3 962.2,1275.6 C954.1,1277.0 950.8,1276.5 942.7,1275.1 C934.6,1273.6 922.6,1270.2 913.5,1266.9 C904.4,1263.6 895.3,1260.4 888.1,1255.2 C881.0,1250.0 874.8,1244.8 870.6,1235.7 C866.4,1226.6 863.9,1213.0 862.8,1200.6 C861.7,1188.3 861.8,1174.0 863.8,1161.7 C865.7,1149.3 869.5,1137.9 874.5,1126.6 C879.5,1115.2 885.9,1103.8 894.0,1093.5 C902.1,1083.1 913.5,1071.7 923.2,1064.2 C932.9,1056.8 943.7,1052.0 952.4,1048.6 Z" stroke-width="3" fill="#f8f8f8"/>
<path d="M1034.3,1072.0 C1032.6,1070.7 1028.4,1066.9 1024.5,1064.2 C1020.6,1061.6 1016.4,1057.4 1010.9,1056.0 C1005.4,1054.7 996.6,1055.7 991.4,1056.0 C986.2,1056.4 984.4,1056.4 979.9,1058.0 C975.4,1059.6 970.3,1061.3 964.1,1065.4 C957.9,1069.5 950.3,1075.3 942.9,1082.5 C935.4,1089.8 926.2,1100.2 919.5,1109.0 C912.8,1117.9 907.2,1127.3 902.5,1135.7 C897.9,1144.2 894.6,1150.7 891.8,1159.9 C889.0,1169.1 887.1,1182.5 885.8,1190.9 C884.5,1199.3 883.2,1201.3 884.2,1210.4 C885.3,1219.5 887.2,1236.7 892.0,1245.4 C896.9,1254.2 907.6,1259.1 913.5,1263.0 C919.3,1266.9 924.8,1267.9 927.1,1268.8" stroke-width="2.6"/>
<path d="M1034.3,1072.0 C1032.6,1070.7 1028.4,1066.9 1024.5,1064.2 C1020.6,1061.6 1016.4,1057.4 1010.9,1056.0 C1005.4,1054.7 996.6,1055.7 991.4,1056.0 C986.2,1056.4 984.4,1056.4 979.9,1058.0 C975.4,1059.6 966.7,1064.2 964.1,1065.4" stroke-width="4.2"/>
<path d="M902.5,1135.7 C900.8,1139.8 894.6,1150.7 891.8,1159.9 C889.0,1169.1 887.1,1182.5 885.8,1190.9 C884.5,1199.3 883.8,1203.9 884.2,1210.4 C884.6,1216.9 887.5,1226.6 888.1,1229.9" stroke-width="4"/>
<path d="M907.6,1144.1 C905.3,1150.0 896.9,1167.5 894.0,1179.2 C891.0,1190.9 889.4,1202.9 890.1,1214.3 C890.7,1225.6 893.0,1238.9 897.9,1247.4 C902.7,1255.8 915.7,1262.0 919.3,1264.9" stroke-width="1.6"/>
<path d="M979.7,1107.1 C988.5,1099.6 998.5,1095.9 1007.0,1093.5 C1015.4,1091.0 1023.9,1090.9 1030.4,1092.5 C1036.9,1094.1 1041.7,1098.2 1046.0,1103.2 C1050.2,1108.2 1053.8,1114.6 1055.7,1122.7 C1057.7,1130.8 1058.6,1140.5 1057.7,1151.9 C1056.7,1163.3 1054.4,1178.5 1049.9,1190.9 C1045.3,1203.2 1037.5,1215.9 1030.4,1226.0 C1023.2,1236.0 1016.1,1245.0 1007.0,1251.3 C997.9,1257.6 985.6,1262.7 975.8,1264.0 C966.1,1265.3 955.7,1263.8 948.5,1259.1 C941.4,1254.4 936.0,1243.8 932.9,1235.7 C929.9,1227.6 929.4,1220.4 930.0,1210.4 C930.7,1200.3 932.8,1187.3 936.8,1175.3 C940.9,1163.3 947.2,1149.6 954.4,1138.3 C961.5,1126.9 970.9,1114.6 979.7,1107.1 Z" stroke-width="3.8"/>
<path d="M984.6,1082.7 C988.3,1081.4 1000.0,1076.4 1007.0,1074.9 C1014.0,1073.5 1020.6,1072.5 1026.5,1074.0 C1032.3,1075.4 1037.5,1079.5 1042.1,1083.7 C1046.6,1087.9 1050.7,1092.8 1053.8,1099.3 C1056.8,1105.8 1059.4,1118.8 1060.6,1122.7" stroke-width="2"/>
<path d="M978.7,1097.4 C982.8,1095.6 995.5,1088.6 1003.1,1086.6 C1010.7,1084.7 1018.7,1084.9 1024.5,1085.7 C1030.4,1086.5 1035.9,1090.5 1038.2,1091.5" stroke-width="2"/>
<path d="M980.7,1105.1 C984.4,1103.2 999.4,1095.4 1003.1,1093.5" stroke-width="2"/>
<path d="M919.3,1163.6 C918.0,1168.2 913.5,1181.5 911.5,1190.9 C909.6,1200.3 907.6,1210.4 907.6,1220.1 C907.6,1229.9 909.9,1242.2 911.5,1249.3 C913.1,1256.5 916.4,1260.7 917.4,1263.0" stroke-width="2"/>
<path d="M1059.6,1122.7 C1059.9,1127.6 1062.5,1141.2 1061.5,1151.9 C1060.6,1162.6 1057.7,1175.3 1053.8,1187.0 C1049.9,1198.7 1044.7,1211.3 1038.2,1222.1 C1031.7,1232.8 1023.9,1243.2 1014.8,1251.3 C1005.7,1259.4 994.0,1266.9 983.6,1270.8 C973.2,1274.7 957.6,1274.0 952.4,1274.7" stroke-width="2.2"/>
<ellipse transform="translate(999.5830085736554,1181.531566640686) rotate(25)" rx="31.5" ry="38.5" stroke-width="2"/>
<ellipse transform="translate(1001.5315666406859,1183.4801247077162) rotate(25)" rx="26" ry="35" stroke-width="3.8"/>
<ellipse transform="translate(999.1932969602494,1179.1932969602494) rotate(25)" rx="18.5" ry="27" stroke-width="3.4"/>
<path d="M981.7,1171.4 L1030.4,1198.7" stroke-width="2"/>
<ellipse transform="translate(994.3219017926734,1126.5822291504287) rotate(25)" rx="4.5" ry="7.5" stroke-width="2.2"/>
<ellipse transform="translate(1040.1130163678877,1151.913484021824) rotate(25)" rx="4.5" ry="7" stroke-width="2.2"/>
<ellipse transform="translate(994.3219017926734,1231.8043647700702) rotate(25)" rx="4.5" ry="7.5" stroke-width="2.2"/>
<ellipse transform="translate(948.5307872174591,1206.473109898675) rotate(25)" rx="4.5" ry="6" stroke-width="2.2"/>
<path d="M952.4,1208.4 L964.1,1215.2" stroke-width="2"/>
<path d="M942.7,1150.0 L948.5,1141.2" stroke-width="2"/>
<path d="M924.2,1210.4 L924.8,1219.1" stroke-width="2"/>
<g transform="translate(851.6,1096.6) rotate(11)">
<ellipse rx="27.8" ry="35.5" stroke-width="9"/>
<path d="M-2,-35 A27.8,35.5 0 0 0 -2,35" stroke-width="2.4" stroke="#f8f8f8" stroke-dasharray="1.2 2.6" fill="none" transform="translate(-2,0)"/>
<ellipse rx="22.8" ry="31" stroke-width="1.8"/>
</g>
<path d="M819.5,1077.1 L829.8,1081.9 M845.8,1091.5 L881.7,1113" stroke-width="2.2"/>
<path d="M727.0,1077.9 C727.8,1076.3 730.9,1072.9 732.5,1072.3 C734.1,1071.8 741.3,1071.5 742.9,1072.3 C744.5,1073.1 747.7,1078.4 748.5,1080.3 C749.3,1082.2 751.0,1089.6 750.9,1091.5 C750.7,1093.4 748.3,1098.6 746.9,1099.4 C745.5,1100.2 739.2,1099.8 737.3,1099.4 C735.4,1099.1 729.0,1097.4 727.8,1096.3 C726.5,1095.1 724.6,1090.1 724.6,1088.3 C724.5,1086.4 726.2,1079.5 727.0,1077.9 Z" fill="#000" stroke-width="1.5"/>
<path d="M730.2,1080.3 C729.8,1081.6 727.6,1085.9 727.8,1088.3 C727.9,1090.7 730.4,1093.6 730.9,1094.7" stroke="#f8f8f8" stroke-width="1.4"/>
<path d="M747.7,1081.9 L752.5,1087.5 L780.4,1101.8 L783.6,1105.8 L782.0,1113.8 L775.6,1115.4 L746.9,1099.4 Z" fill="#000" stroke-width="2"/>
<path d="M752.8,1087.8 C752.2,1089.0 750.1,1091.4 749.9,1093.9 C749.7,1096.3 751.5,1098.7 751.8,1099.9" stroke="#f8f8f8" stroke-width="2"/>
<path d="M757.6,1090.5 C757.0,1091.7 754.9,1094.1 754.7,1096.6 C754.5,1099.0 756.2,1101.4 756.6,1102.6" stroke="#f8f8f8" stroke-width="2"/>
<path d="M762.4,1093.2 C761.8,1094.4 759.7,1096.9 759.5,1099.3 C759.3,1101.7 761.0,1104.1 761.4,1105.3" stroke="#f8f8f8" stroke-width="2"/>
<path d="M767.2,1095.9 C766.6,1097.1 764.5,1099.6 764.3,1102.0 C764.1,1104.4 765.8,1106.8 766.2,1108.1" stroke="#f8f8f8" stroke-width="2"/>
<path d="M771.9,1098.6 C771.4,1099.9 769.3,1102.3 769.1,1104.7 C768.9,1107.1 770.6,1109.6 771.0,1110.8" stroke="#f8f8f8" stroke-width="2"/>
<path d="M776.7,1101.4 C776.1,1102.6 774.0,1105.0 773.9,1107.4 C773.7,1109.8 775.4,1112.3 775.8,1113.5" stroke="#f8f8f8" stroke-width="2"/>
<ellipse transform="translate(777.9984051036682,1107.4162679425838) rotate(28)" rx="4.8" ry="7.2" stroke-width="2.8" fill="#f8f8f8"/>
<path d="M783.6,1109.0 L866.5,1158.5" stroke-width="2.2"/>
<path d="M316.4,452.8 L337.7,465.2 L235,524 M228,527.5 L222,531 M211,537 L120,590" stroke-width="2.5"/>
<path d="M110,597.5 L44.8,635.1 L65.5,646.8" stroke-width="2.5"/>
<path d="M831,503.8 L791.9,526.8 M786.1,529.2 L782.7,531 M778,533.8 L764.2,544.1" stroke-width="2.5"/>
<path d="M614.5,630.5 L583,649" stroke-width="2.5"/>
<path d="M569.6,810.8 L590,823 M595,826 L599,828.5 M604,831.5 L626.4,844 L690,806 M696,802.5 L700,800 M706,796.5 L738,777" stroke-width="2.5"/>
<path d="M849,703 L880,685 M886,681.5 L890,679 M896,675.5 L970.4,632.5 L940,614 M934,610.5 L930,608 M924,604 L921.5,602.6" stroke-width="2.5"/>
<circle cx="31.2" cy="1264" r="0.8" fill="#000" stroke="none"/>
<path d="M403,586 L403,639 L500.5,639 L500.5,484 M456,613 L456,639 M449,639 L449,664" stroke-width="2" fill="none" />
<path d="M822.2,417 L822.2,387.9 L1024,503.5 L1024,541 M1023.8,573 L1023.8,614 M980.7,481 L980.7,518 M980.7,551 L980.7,592 M822.2,449.5 L822.2,485" stroke-width="2.2" fill="none" />
</g>
<text x="308" y="690.4" class="wm" textLength="511" lengthAdjust="spacingAndGlyphs">AUTOPITER.RU</text>
</svg></body></html>
